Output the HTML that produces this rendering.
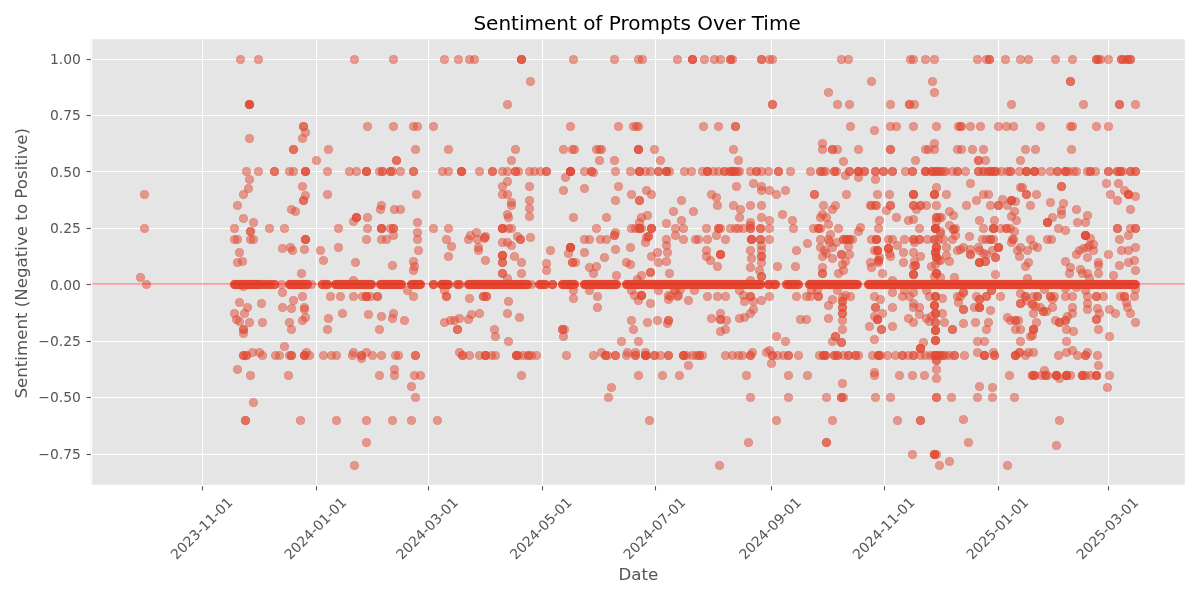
<!DOCTYPE html>
<html lang="en"><head><meta charset="utf-8"><title>Sentiment of Prompts Over Time</title>
<style>html,body{margin:0;padding:0;background:#fff;}body{width:1200px;height:600px;overflow:hidden;}svg{display:block;will-change:transform;}text{font-family:"DejaVu Sans", "Liberation Sans", sans-serif;}.tk{font-size:13.889px;fill:#555555;}.lb{font-size:16.667px;fill:#555555;}.tt{font-size:20px;fill:#000;}.g{stroke:#fff;stroke-width:1.111;}.t{stroke:#555555;stroke-width:1.111;}.p circle{fill:#E24A33;fill-opacity:.5;stroke:#E24A33;stroke-opacity:.5;stroke-width:.8;}</style></head><body>
<svg width="1200" height="600" viewBox="0 0 1200 600">
<rect x="0" y="0" width="1200" height="600" fill="#ffffff"/>
<rect x="90.53" y="38.33" width="1094.47" height="446.83" fill="#E5E5E5"/>
<g><line class="g" x1="202.5" y1="38.33" x2="202.5" y2="485.17"/><line class="g" x1="316.5" y1="38.33" x2="316.5" y2="485.17"/><line class="g" x1="428.5" y1="38.33" x2="428.5" y2="485.17"/><line class="g" x1="542.5" y1="38.33" x2="542.5" y2="485.17"/><line class="g" x1="655.5" y1="38.33" x2="655.5" y2="485.17"/><line class="g" x1="771.5" y1="38.33" x2="771.5" y2="485.17"/><line class="g" x1="884.5" y1="38.33" x2="884.5" y2="485.17"/><line class="g" x1="998.5" y1="38.33" x2="998.5" y2="485.17"/><line class="g" x1="1108.5" y1="38.33" x2="1108.5" y2="485.17"/><line class="g" x1="90.53" y1="454.5" x2="1185.00" y2="454.5"/><line class="g" x1="90.53" y1="397.5" x2="1185.00" y2="397.5"/><line class="g" x1="90.53" y1="341.5" x2="1185.00" y2="341.5"/><line class="g" x1="90.53" y1="284.5" x2="1185.00" y2="284.5"/><line class="g" x1="90.53" y1="228.5" x2="1185.00" y2="228.5"/><line class="g" x1="90.53" y1="171.5" x2="1185.00" y2="171.5"/><line class="g" x1="90.53" y1="115.5" x2="1185.00" y2="115.5"/><line class="g" x1="90.53" y1="59.5" x2="1185.00" y2="59.5"/></g>
<g class="p"><circle cx="240.5" cy="59.5" r="4.1"/><circle cx="258.5" cy="59.5" r="4.1"/><circle cx="249.5" cy="104.5" r="4.1"/><circle cx="249.5" cy="104.5" r="4.1"/><circle cx="249.5" cy="104.5" r="4.1"/><circle cx="249.5" cy="104.5" r="4.1"/><circle cx="249.5" cy="138.5" r="4.1"/><circle cx="354.5" cy="59.5" r="4.1"/><circle cx="393.5" cy="59.5" r="4.1"/><circle cx="444.5" cy="59.5" r="4.1"/><circle cx="458.5" cy="59.5" r="4.1"/><circle cx="469.5" cy="59.5" r="4.1"/><circle cx="474.5" cy="59.5" r="4.1"/><circle cx="303.5" cy="126.5" r="4.1"/><circle cx="303.5" cy="126.5" r="4.1"/><circle cx="367.5" cy="126.5" r="4.1"/><circle cx="393.5" cy="126.5" r="4.1"/><circle cx="413.5" cy="126.5" r="4.1"/><circle cx="417.5" cy="126.5" r="4.1"/><circle cx="433.5" cy="126.5" r="4.1"/><circle cx="305.5" cy="132.5" r="4.1"/><circle cx="302.5" cy="138.5" r="4.1"/><circle cx="521.5" cy="59.5" r="4.1"/><circle cx="521.5" cy="59.5" r="4.1"/><circle cx="521.5" cy="59.5" r="4.1"/><circle cx="573.5" cy="59.5" r="4.1"/><circle cx="614.5" cy="59.5" r="4.1"/><circle cx="638.5" cy="59.5" r="4.1"/><circle cx="642.5" cy="59.5" r="4.1"/><circle cx="677.5" cy="59.5" r="4.1"/><circle cx="530.5" cy="81.5" r="4.1"/><circle cx="507.5" cy="104.5" r="4.1"/><circle cx="570.5" cy="126.5" r="4.1"/><circle cx="618.5" cy="126.5" r="4.1"/><circle cx="633.5" cy="126.5" r="4.1"/><circle cx="636.5" cy="126.5" r="4.1"/><circle cx="638.5" cy="126.5" r="4.1"/><circle cx="692.5" cy="59.5" r="4.1"/><circle cx="692.5" cy="59.5" r="4.1"/><circle cx="692.5" cy="59.5" r="4.1"/><circle cx="704.5" cy="59.5" r="4.1"/><circle cx="714.5" cy="59.5" r="4.1"/><circle cx="720.5" cy="59.5" r="4.1"/><circle cx="730.5" cy="59.5" r="4.1"/><circle cx="730.5" cy="59.5" r="4.1"/><circle cx="732.5" cy="59.5" r="4.1"/><circle cx="761.5" cy="59.5" r="4.1"/><circle cx="761.5" cy="59.5" r="4.1"/><circle cx="769.5" cy="59.5" r="4.1"/><circle cx="772.5" cy="59.5" r="4.1"/><circle cx="841.5" cy="59.5" r="4.1"/><circle cx="848.5" cy="59.5" r="4.1"/><circle cx="828.5" cy="92.5" r="4.1"/><circle cx="772.5" cy="104.5" r="4.1"/><circle cx="772.5" cy="104.5" r="4.1"/><circle cx="837.5" cy="104.5" r="4.1"/><circle cx="849.5" cy="104.5" r="4.1"/><circle cx="703.5" cy="126.5" r="4.1"/><circle cx="718.5" cy="126.5" r="4.1"/><circle cx="735.5" cy="126.5" r="4.1"/><circle cx="735.5" cy="126.5" r="4.1"/><circle cx="850.5" cy="126.5" r="4.1"/><circle cx="910.5" cy="59.5" r="4.1"/><circle cx="913.5" cy="59.5" r="4.1"/><circle cx="925.5" cy="59.5" r="4.1"/><circle cx="934.5" cy="59.5" r="4.1"/><circle cx="977.5" cy="59.5" r="4.1"/><circle cx="986.5" cy="59.5" r="4.1"/><circle cx="989.5" cy="59.5" r="4.1"/><circle cx="989.5" cy="59.5" r="4.1"/><circle cx="1005.5" cy="59.5" r="4.1"/><circle cx="1020.5" cy="59.5" r="4.1"/><circle cx="1028.5" cy="59.5" r="4.1"/><circle cx="1055.5" cy="59.5" r="4.1"/><circle cx="871.5" cy="81.5" r="4.1"/><circle cx="932.5" cy="81.5" r="4.1"/><circle cx="934.5" cy="92.5" r="4.1"/><circle cx="890.5" cy="104.5" r="4.1"/><circle cx="909.5" cy="104.5" r="4.1"/><circle cx="909.5" cy="104.5" r="4.1"/><circle cx="914.5" cy="104.5" r="4.1"/><circle cx="1011.5" cy="104.5" r="4.1"/><circle cx="890.5" cy="126.5" r="4.1"/><circle cx="896.5" cy="126.5" r="4.1"/><circle cx="913.5" cy="126.5" r="4.1"/><circle cx="936.5" cy="126.5" r="4.1"/><circle cx="958.5" cy="126.5" r="4.1"/><circle cx="960.5" cy="126.5" r="4.1"/><circle cx="961.5" cy="126.5" r="4.1"/><circle cx="970.5" cy="126.5" r="4.1"/><circle cx="980.5" cy="126.5" r="4.1"/><circle cx="998.5" cy="126.5" r="4.1"/><circle cx="1006.5" cy="126.5" r="4.1"/><circle cx="1013.5" cy="126.5" r="4.1"/><circle cx="1040.5" cy="126.5" r="4.1"/><circle cx="874.5" cy="130.5" r="4.1"/><circle cx="1072.5" cy="59.5" r="4.1"/><circle cx="1096.5" cy="59.5" r="4.1"/><circle cx="1096.5" cy="59.5" r="4.1"/><circle cx="1098.5" cy="59.5" r="4.1"/><circle cx="1100.5" cy="59.5" r="4.1"/><circle cx="1108.5" cy="59.5" r="4.1"/><circle cx="1121.5" cy="59.5" r="4.1"/><circle cx="1121.5" cy="59.5" r="4.1"/><circle cx="1123.5" cy="59.5" r="4.1"/><circle cx="1127.5" cy="59.5" r="4.1"/><circle cx="1127.5" cy="59.5" r="4.1"/><circle cx="1130.5" cy="59.5" r="4.1"/><circle cx="1130.5" cy="59.5" r="4.1"/><circle cx="1070.5" cy="81.5" r="4.1"/><circle cx="1070.5" cy="81.5" r="4.1"/><circle cx="1083.5" cy="104.5" r="4.1"/><circle cx="1119.5" cy="104.5" r="4.1"/><circle cx="1119.5" cy="104.5" r="4.1"/><circle cx="1135.5" cy="104.5" r="4.1"/><circle cx="1070.5" cy="126.5" r="4.1"/><circle cx="1072.5" cy="126.5" r="4.1"/><circle cx="1096.5" cy="126.5" r="4.1"/><circle cx="1108.5" cy="126.5" r="4.1"/><circle cx="144.5" cy="194.5" r="4.1"/><circle cx="144.5" cy="228.5" r="4.1"/><circle cx="293.5" cy="149.5" r="4.1"/><circle cx="293.5" cy="149.5" r="4.1"/><circle cx="246.5" cy="171.5" r="4.1"/><circle cx="258.5" cy="171.5" r="4.1"/><circle cx="274.5" cy="171.5" r="4.1"/><circle cx="274.5" cy="171.5" r="4.1"/><circle cx="289.5" cy="171.5" r="4.1"/><circle cx="293.5" cy="171.5" r="4.1"/><circle cx="249.5" cy="179.5" r="4.1"/><circle cx="248.5" cy="188.5" r="4.1"/><circle cx="243.5" cy="194.5" r="4.1"/><circle cx="237.5" cy="205.5" r="4.1"/><circle cx="243.5" cy="218.5" r="4.1"/><circle cx="253.5" cy="222.5" r="4.1"/><circle cx="234.5" cy="228.5" r="4.1"/><circle cx="269.5" cy="228.5" r="4.1"/><circle cx="284.5" cy="228.5" r="4.1"/><circle cx="250.5" cy="231.5" r="4.1"/><circle cx="250.5" cy="231.5" r="4.1"/><circle cx="291.5" cy="209.5" r="4.1"/><circle cx="295.5" cy="211.5" r="4.1"/><circle cx="328.5" cy="149.5" r="4.1"/><circle cx="415.5" cy="149.5" r="4.1"/><circle cx="448.5" cy="149.5" r="4.1"/><circle cx="316.5" cy="160.5" r="4.1"/><circle cx="396.5" cy="160.5" r="4.1"/><circle cx="396.5" cy="160.5" r="4.1"/><circle cx="305.5" cy="171.5" r="4.1"/><circle cx="305.5" cy="171.5" r="4.1"/><circle cx="305.5" cy="171.5" r="4.1"/><circle cx="327.5" cy="171.5" r="4.1"/><circle cx="349.5" cy="171.5" r="4.1"/><circle cx="356.5" cy="171.5" r="4.1"/><circle cx="366.5" cy="171.5" r="4.1"/><circle cx="366.5" cy="171.5" r="4.1"/><circle cx="366.5" cy="171.5" r="4.1"/><circle cx="379.5" cy="171.5" r="4.1"/><circle cx="382.5" cy="171.5" r="4.1"/><circle cx="382.5" cy="171.5" r="4.1"/><circle cx="390.5" cy="171.5" r="4.1"/><circle cx="390.5" cy="171.5" r="4.1"/><circle cx="392.5" cy="171.5" r="4.1"/><circle cx="400.5" cy="171.5" r="4.1"/><circle cx="413.5" cy="171.5" r="4.1"/><circle cx="413.5" cy="171.5" r="4.1"/><circle cx="442.5" cy="171.5" r="4.1"/><circle cx="448.5" cy="171.5" r="4.1"/><circle cx="461.5" cy="171.5" r="4.1"/><circle cx="461.5" cy="171.5" r="4.1"/><circle cx="461.5" cy="171.5" r="4.1"/><circle cx="302.5" cy="186.5" r="4.1"/><circle cx="305.5" cy="195.5" r="4.1"/><circle cx="303.5" cy="200.5" r="4.1"/><circle cx="303.5" cy="200.5" r="4.1"/><circle cx="327.5" cy="194.5" r="4.1"/><circle cx="416.5" cy="194.5" r="4.1"/><circle cx="381.5" cy="205.5" r="4.1"/><circle cx="380.5" cy="209.5" r="4.1"/><circle cx="394.5" cy="209.5" r="4.1"/><circle cx="400.5" cy="209.5" r="4.1"/><circle cx="356.5" cy="217.5" r="4.1"/><circle cx="356.5" cy="217.5" r="4.1"/><circle cx="356.5" cy="217.5" r="4.1"/><circle cx="353.5" cy="221.5" r="4.1"/><circle cx="367.5" cy="217.5" r="4.1"/><circle cx="417.5" cy="222.5" r="4.1"/><circle cx="338.5" cy="228.5" r="4.1"/><circle cx="367.5" cy="228.5" r="4.1"/><circle cx="381.5" cy="228.5" r="4.1"/><circle cx="381.5" cy="228.5" r="4.1"/><circle cx="381.5" cy="228.5" r="4.1"/><circle cx="390.5" cy="228.5" r="4.1"/><circle cx="393.5" cy="228.5" r="4.1"/><circle cx="393.5" cy="228.5" r="4.1"/><circle cx="433.5" cy="228.5" r="4.1"/><circle cx="448.5" cy="228.5" r="4.1"/><circle cx="417.5" cy="232.5" r="4.1"/><circle cx="393.5" cy="235.5" r="4.1"/><circle cx="515.5" cy="149.5" r="4.1"/><circle cx="563.5" cy="149.5" r="4.1"/><circle cx="572.5" cy="149.5" r="4.1"/><circle cx="574.5" cy="149.5" r="4.1"/><circle cx="596.5" cy="149.5" r="4.1"/><circle cx="599.5" cy="149.5" r="4.1"/><circle cx="601.5" cy="149.5" r="4.1"/><circle cx="638.5" cy="149.5" r="4.1"/><circle cx="638.5" cy="149.5" r="4.1"/><circle cx="638.5" cy="149.5" r="4.1"/><circle cx="654.5" cy="149.5" r="4.1"/><circle cx="511.5" cy="160.5" r="4.1"/><circle cx="599.5" cy="160.5" r="4.1"/><circle cx="614.5" cy="160.5" r="4.1"/><circle cx="660.5" cy="160.5" r="4.1"/><circle cx="479.5" cy="171.5" r="4.1"/><circle cx="492.5" cy="171.5" r="4.1"/><circle cx="492.5" cy="171.5" r="4.1"/><circle cx="502.5" cy="171.5" r="4.1"/><circle cx="507.5" cy="171.5" r="4.1"/><circle cx="515.5" cy="171.5" r="4.1"/><circle cx="515.5" cy="171.5" r="4.1"/><circle cx="518.5" cy="171.5" r="4.1"/><circle cx="529.5" cy="171.5" r="4.1"/><circle cx="534.5" cy="171.5" r="4.1"/><circle cx="540.5" cy="171.5" r="4.1"/><circle cx="546.5" cy="171.5" r="4.1"/><circle cx="546.5" cy="171.5" r="4.1"/><circle cx="570.5" cy="171.5" r="4.1"/><circle cx="570.5" cy="171.5" r="4.1"/><circle cx="570.5" cy="171.5" r="4.1"/><circle cx="570.5" cy="171.5" r="4.1"/><circle cx="570.5" cy="171.5" r="4.1"/><circle cx="584.5" cy="171.5" r="4.1"/><circle cx="591.5" cy="171.5" r="4.1"/><circle cx="591.5" cy="171.5" r="4.1"/><circle cx="615.5" cy="171.5" r="4.1"/><circle cx="630.5" cy="171.5" r="4.1"/><circle cx="639.5" cy="171.5" r="4.1"/><circle cx="639.5" cy="171.5" r="4.1"/><circle cx="639.5" cy="171.5" r="4.1"/><circle cx="645.5" cy="171.5" r="4.1"/><circle cx="650.5" cy="171.5" r="4.1"/><circle cx="658.5" cy="171.5" r="4.1"/><circle cx="658.5" cy="171.5" r="4.1"/><circle cx="666.5" cy="171.5" r="4.1"/><circle cx="666.5" cy="171.5" r="4.1"/><circle cx="666.5" cy="171.5" r="4.1"/><circle cx="669.5" cy="171.5" r="4.1"/><circle cx="593.5" cy="172.5" r="4.1"/><circle cx="565.5" cy="177.5" r="4.1"/><circle cx="507.5" cy="181.5" r="4.1"/><circle cx="502.5" cy="186.5" r="4.1"/><circle cx="529.5" cy="186.5" r="4.1"/><circle cx="563.5" cy="190.5" r="4.1"/><circle cx="584.5" cy="188.5" r="4.1"/><circle cx="618.5" cy="186.5" r="4.1"/><circle cx="502.5" cy="194.5" r="4.1"/><circle cx="507.5" cy="194.5" r="4.1"/><circle cx="646.5" cy="190.5" r="4.1"/><circle cx="651.5" cy="194.5" r="4.1"/><circle cx="631.5" cy="194.5" r="4.1"/><circle cx="511.5" cy="202.5" r="4.1"/><circle cx="511.5" cy="205.5" r="4.1"/><circle cx="529.5" cy="200.5" r="4.1"/><circle cx="529.5" cy="208.5" r="4.1"/><circle cx="529.5" cy="216.5" r="4.1"/><circle cx="615.5" cy="200.5" r="4.1"/><circle cx="639.5" cy="200.5" r="4.1"/><circle cx="639.5" cy="200.5" r="4.1"/><circle cx="507.5" cy="214.5" r="4.1"/><circle cx="508.5" cy="217.5" r="4.1"/><circle cx="573.5" cy="217.5" r="4.1"/><circle cx="606.5" cy="217.5" r="4.1"/><circle cx="673.5" cy="211.5" r="4.1"/><circle cx="647.5" cy="215.5" r="4.1"/><circle cx="641.5" cy="217.5" r="4.1"/><circle cx="639.5" cy="222.5" r="4.1"/><circle cx="666.5" cy="223.5" r="4.1"/><circle cx="502.5" cy="228.5" r="4.1"/><circle cx="502.5" cy="228.5" r="4.1"/><circle cx="502.5" cy="228.5" r="4.1"/><circle cx="508.5" cy="228.5" r="4.1"/><circle cx="511.5" cy="228.5" r="4.1"/><circle cx="596.5" cy="228.5" r="4.1"/><circle cx="631.5" cy="228.5" r="4.1"/><circle cx="635.5" cy="228.5" r="4.1"/><circle cx="639.5" cy="228.5" r="4.1"/><circle cx="639.5" cy="228.5" r="4.1"/><circle cx="639.5" cy="228.5" r="4.1"/><circle cx="641.5" cy="228.5" r="4.1"/><circle cx="651.5" cy="228.5" r="4.1"/><circle cx="651.5" cy="228.5" r="4.1"/><circle cx="651.5" cy="228.5" r="4.1"/><circle cx="675.5" cy="228.5" r="4.1"/><circle cx="615.5" cy="232.5" r="4.1"/><circle cx="614.5" cy="235.5" r="4.1"/><circle cx="614.5" cy="235.5" r="4.1"/><circle cx="733.5" cy="149.5" r="4.1"/><circle cx="822.5" cy="149.5" r="4.1"/><circle cx="832.5" cy="149.5" r="4.1"/><circle cx="832.5" cy="149.5" r="4.1"/><circle cx="837.5" cy="149.5" r="4.1"/><circle cx="858.5" cy="149.5" r="4.1"/><circle cx="822.5" cy="143.5" r="4.1"/><circle cx="738.5" cy="160.5" r="4.1"/><circle cx="843.5" cy="161.5" r="4.1"/><circle cx="684.5" cy="171.5" r="4.1"/><circle cx="691.5" cy="171.5" r="4.1"/><circle cx="702.5" cy="171.5" r="4.1"/><circle cx="707.5" cy="171.5" r="4.1"/><circle cx="707.5" cy="171.5" r="4.1"/><circle cx="707.5" cy="171.5" r="4.1"/><circle cx="713.5" cy="171.5" r="4.1"/><circle cx="718.5" cy="171.5" r="4.1"/><circle cx="724.5" cy="171.5" r="4.1"/><circle cx="724.5" cy="171.5" r="4.1"/><circle cx="729.5" cy="171.5" r="4.1"/><circle cx="731.5" cy="171.5" r="4.1"/><circle cx="731.5" cy="171.5" r="4.1"/><circle cx="733.5" cy="171.5" r="4.1"/><circle cx="733.5" cy="171.5" r="4.1"/><circle cx="735.5" cy="171.5" r="4.1"/><circle cx="737.5" cy="171.5" r="4.1"/><circle cx="739.5" cy="171.5" r="4.1"/><circle cx="750.5" cy="171.5" r="4.1"/><circle cx="756.5" cy="171.5" r="4.1"/><circle cx="756.5" cy="171.5" r="4.1"/><circle cx="761.5" cy="171.5" r="4.1"/><circle cx="768.5" cy="171.5" r="4.1"/><circle cx="778.5" cy="171.5" r="4.1"/><circle cx="778.5" cy="171.5" r="4.1"/><circle cx="790.5" cy="171.5" r="4.1"/><circle cx="810.5" cy="171.5" r="4.1"/><circle cx="820.5" cy="171.5" r="4.1"/><circle cx="820.5" cy="171.5" r="4.1"/><circle cx="823.5" cy="171.5" r="4.1"/><circle cx="825.5" cy="171.5" r="4.1"/><circle cx="834.5" cy="171.5" r="4.1"/><circle cx="834.5" cy="171.5" r="4.1"/><circle cx="836.5" cy="171.5" r="4.1"/><circle cx="849.5" cy="171.5" r="4.1"/><circle cx="849.5" cy="171.5" r="4.1"/><circle cx="858.5" cy="171.5" r="4.1"/><circle cx="858.5" cy="171.5" r="4.1"/><circle cx="858.5" cy="171.5" r="4.1"/><circle cx="864.5" cy="171.5" r="4.1"/><circle cx="864.5" cy="171.5" r="4.1"/><circle cx="845.5" cy="175.5" r="4.1"/><circle cx="858.5" cy="177.5" r="4.1"/><circle cx="753.5" cy="183.5" r="4.1"/><circle cx="761.5" cy="186.5" r="4.1"/><circle cx="761.5" cy="190.5" r="4.1"/><circle cx="769.5" cy="190.5" r="4.1"/><circle cx="776.5" cy="194.5" r="4.1"/><circle cx="785.5" cy="190.5" r="4.1"/><circle cx="736.5" cy="186.5" r="4.1"/><circle cx="711.5" cy="194.5" r="4.1"/><circle cx="716.5" cy="197.5" r="4.1"/><circle cx="814.5" cy="194.5" r="4.1"/><circle cx="814.5" cy="194.5" r="4.1"/><circle cx="846.5" cy="194.5" r="4.1"/><circle cx="681.5" cy="200.5" r="4.1"/><circle cx="717.5" cy="205.5" r="4.1"/><circle cx="733.5" cy="205.5" r="4.1"/><circle cx="750.5" cy="205.5" r="4.1"/><circle cx="761.5" cy="205.5" r="4.1"/><circle cx="823.5" cy="205.5" r="4.1"/><circle cx="835.5" cy="205.5" r="4.1"/><circle cx="870.5" cy="205.5" r="4.1"/><circle cx="740.5" cy="209.5" r="4.1"/><circle cx="832.5" cy="209.5" r="4.1"/><circle cx="693.5" cy="211.5" r="4.1"/><circle cx="782.5" cy="214.5" r="4.1"/><circle cx="739.5" cy="217.5" r="4.1"/><circle cx="761.5" cy="217.5" r="4.1"/><circle cx="769.5" cy="220.5" r="4.1"/><circle cx="750.5" cy="222.5" r="4.1"/><circle cx="792.5" cy="220.5" r="4.1"/><circle cx="822.5" cy="214.5" r="4.1"/><circle cx="820.5" cy="217.5" r="4.1"/><circle cx="826.5" cy="217.5" r="4.1"/><circle cx="828.5" cy="224.5" r="4.1"/><circle cx="681.5" cy="220.5" r="4.1"/><circle cx="683.5" cy="228.5" r="4.1"/><circle cx="706.5" cy="228.5" r="4.1"/><circle cx="718.5" cy="228.5" r="4.1"/><circle cx="718.5" cy="228.5" r="4.1"/><circle cx="720.5" cy="228.5" r="4.1"/><circle cx="730.5" cy="228.5" r="4.1"/><circle cx="735.5" cy="228.5" r="4.1"/><circle cx="738.5" cy="228.5" r="4.1"/><circle cx="743.5" cy="228.5" r="4.1"/><circle cx="750.5" cy="228.5" r="4.1"/><circle cx="750.5" cy="228.5" r="4.1"/><circle cx="760.5" cy="228.5" r="4.1"/><circle cx="760.5" cy="228.5" r="4.1"/><circle cx="769.5" cy="228.5" r="4.1"/><circle cx="793.5" cy="228.5" r="4.1"/><circle cx="813.5" cy="228.5" r="4.1"/><circle cx="818.5" cy="228.5" r="4.1"/><circle cx="818.5" cy="228.5" r="4.1"/><circle cx="820.5" cy="228.5" r="4.1"/><circle cx="838.5" cy="228.5" r="4.1"/><circle cx="750.5" cy="225.5" r="4.1"/><circle cx="860.5" cy="227.5" r="4.1"/><circle cx="858.5" cy="231.5" r="4.1"/><circle cx="830.5" cy="234.5" r="4.1"/><circle cx="675.5" cy="235.5" r="4.1"/><circle cx="716.5" cy="235.5" r="4.1"/><circle cx="890.5" cy="149.5" r="4.1"/><circle cx="890.5" cy="149.5" r="4.1"/><circle cx="925.5" cy="149.5" r="4.1"/><circle cx="928.5" cy="149.5" r="4.1"/><circle cx="934.5" cy="149.5" r="4.1"/><circle cx="957.5" cy="149.5" r="4.1"/><circle cx="961.5" cy="149.5" r="4.1"/><circle cx="972.5" cy="149.5" r="4.1"/><circle cx="983.5" cy="149.5" r="4.1"/><circle cx="1025.5" cy="149.5" r="4.1"/><circle cx="1035.5" cy="149.5" r="4.1"/><circle cx="934.5" cy="143.5" r="4.1"/><circle cx="915.5" cy="160.5" r="4.1"/><circle cx="978.5" cy="160.5" r="4.1"/><circle cx="978.5" cy="160.5" r="4.1"/><circle cx="985.5" cy="160.5" r="4.1"/><circle cx="1020.5" cy="160.5" r="4.1"/><circle cx="875.5" cy="171.5" r="4.1"/><circle cx="875.5" cy="171.5" r="4.1"/><circle cx="883.5" cy="171.5" r="4.1"/><circle cx="883.5" cy="171.5" r="4.1"/><circle cx="892.5" cy="171.5" r="4.1"/><circle cx="892.5" cy="171.5" r="4.1"/><circle cx="905.5" cy="171.5" r="4.1"/><circle cx="912.5" cy="171.5" r="4.1"/><circle cx="912.5" cy="171.5" r="4.1"/><circle cx="925.5" cy="171.5" r="4.1"/><circle cx="925.5" cy="171.5" r="4.1"/><circle cx="925.5" cy="171.5" r="4.1"/><circle cx="931.5" cy="171.5" r="4.1"/><circle cx="931.5" cy="171.5" r="4.1"/><circle cx="934.5" cy="171.5" r="4.1"/><circle cx="934.5" cy="171.5" r="4.1"/><circle cx="937.5" cy="171.5" r="4.1"/><circle cx="937.5" cy="171.5" r="4.1"/><circle cx="940.5" cy="171.5" r="4.1"/><circle cx="940.5" cy="171.5" r="4.1"/><circle cx="943.5" cy="171.5" r="4.1"/><circle cx="945.5" cy="171.5" r="4.1"/><circle cx="952.5" cy="171.5" r="4.1"/><circle cx="957.5" cy="171.5" r="4.1"/><circle cx="957.5" cy="171.5" r="4.1"/><circle cx="965.5" cy="171.5" r="4.1"/><circle cx="978.5" cy="171.5" r="4.1"/><circle cx="978.5" cy="171.5" r="4.1"/><circle cx="983.5" cy="171.5" r="4.1"/><circle cx="983.5" cy="171.5" r="4.1"/><circle cx="988.5" cy="171.5" r="4.1"/><circle cx="988.5" cy="171.5" r="4.1"/><circle cx="991.5" cy="171.5" r="4.1"/><circle cx="991.5" cy="171.5" r="4.1"/><circle cx="994.5" cy="171.5" r="4.1"/><circle cx="994.5" cy="171.5" r="4.1"/><circle cx="996.5" cy="171.5" r="4.1"/><circle cx="1001.5" cy="171.5" r="4.1"/><circle cx="1007.5" cy="171.5" r="4.1"/><circle cx="1010.5" cy="171.5" r="4.1"/><circle cx="1010.5" cy="171.5" r="4.1"/><circle cx="1019.5" cy="171.5" r="4.1"/><circle cx="1026.5" cy="171.5" r="4.1"/><circle cx="1026.5" cy="171.5" r="4.1"/><circle cx="1026.5" cy="171.5" r="4.1"/><circle cx="1034.5" cy="171.5" r="4.1"/><circle cx="1034.5" cy="171.5" r="4.1"/><circle cx="1034.5" cy="171.5" r="4.1"/><circle cx="1041.5" cy="171.5" r="4.1"/><circle cx="1050.5" cy="171.5" r="4.1"/><circle cx="1057.5" cy="171.5" r="4.1"/><circle cx="1057.5" cy="171.5" r="4.1"/><circle cx="875.5" cy="179.5" r="4.1"/><circle cx="970.5" cy="183.5" r="4.1"/><circle cx="936.5" cy="187.5" r="4.1"/><circle cx="1020.5" cy="187.5" r="4.1"/><circle cx="1022.5" cy="187.5" r="4.1"/><circle cx="877.5" cy="194.5" r="4.1"/><circle cx="889.5" cy="194.5" r="4.1"/><circle cx="913.5" cy="194.5" r="4.1"/><circle cx="913.5" cy="194.5" r="4.1"/><circle cx="913.5" cy="194.5" r="4.1"/><circle cx="934.5" cy="194.5" r="4.1"/><circle cx="934.5" cy="194.5" r="4.1"/><circle cx="934.5" cy="194.5" r="4.1"/><circle cx="946.5" cy="194.5" r="4.1"/><circle cx="983.5" cy="194.5" r="4.1"/><circle cx="988.5" cy="194.5" r="4.1"/><circle cx="1026.5" cy="194.5" r="4.1"/><circle cx="1026.5" cy="194.5" r="4.1"/><circle cx="1036.5" cy="194.5" r="4.1"/><circle cx="976.5" cy="200.5" r="4.1"/><circle cx="1002.5" cy="199.5" r="4.1"/><circle cx="1011.5" cy="200.5" r="4.1"/><circle cx="1011.5" cy="200.5" r="4.1"/><circle cx="1011.5" cy="200.5" r="4.1"/><circle cx="1015.5" cy="201.5" r="4.1"/><circle cx="1050.5" cy="202.5" r="4.1"/><circle cx="871.5" cy="205.5" r="4.1"/><circle cx="875.5" cy="205.5" r="4.1"/><circle cx="876.5" cy="205.5" r="4.1"/><circle cx="890.5" cy="205.5" r="4.1"/><circle cx="890.5" cy="205.5" r="4.1"/><circle cx="913.5" cy="205.5" r="4.1"/><circle cx="913.5" cy="205.5" r="4.1"/><circle cx="920.5" cy="205.5" r="4.1"/><circle cx="920.5" cy="205.5" r="4.1"/><circle cx="926.5" cy="205.5" r="4.1"/><circle cx="936.5" cy="205.5" r="4.1"/><circle cx="966.5" cy="205.5" r="4.1"/><circle cx="990.5" cy="205.5" r="4.1"/><circle cx="998.5" cy="205.5" r="4.1"/><circle cx="998.5" cy="205.5" r="4.1"/><circle cx="1007.5" cy="205.5" r="4.1"/><circle cx="1030.5" cy="205.5" r="4.1"/><circle cx="886.5" cy="210.5" r="4.1"/><circle cx="916.5" cy="209.5" r="4.1"/><circle cx="949.5" cy="211.5" r="4.1"/><circle cx="953.5" cy="215.5" r="4.1"/><circle cx="1014.5" cy="211.5" r="4.1"/><circle cx="1011.5" cy="216.5" r="4.1"/><circle cx="1016.5" cy="220.5" r="4.1"/><circle cx="896.5" cy="217.5" r="4.1"/><circle cx="908.5" cy="220.5" r="4.1"/><circle cx="913.5" cy="219.5" r="4.1"/><circle cx="879.5" cy="220.5" r="4.1"/><circle cx="936.5" cy="217.5" r="4.1"/><circle cx="936.5" cy="217.5" r="4.1"/><circle cx="939.5" cy="217.5" r="4.1"/><circle cx="941.5" cy="217.5" r="4.1"/><circle cx="936.5" cy="221.5" r="4.1"/><circle cx="979.5" cy="220.5" r="4.1"/><circle cx="994.5" cy="220.5" r="4.1"/><circle cx="1052.5" cy="217.5" r="4.1"/><circle cx="1047.5" cy="222.5" r="4.1"/><circle cx="1047.5" cy="222.5" r="4.1"/><circle cx="1047.5" cy="222.5" r="4.1"/><circle cx="878.5" cy="228.5" r="4.1"/><circle cx="919.5" cy="228.5" r="4.1"/><circle cx="935.5" cy="228.5" r="4.1"/><circle cx="935.5" cy="228.5" r="4.1"/><circle cx="935.5" cy="228.5" r="4.1"/><circle cx="935.5" cy="228.5" r="4.1"/><circle cx="935.5" cy="228.5" r="4.1"/><circle cx="955.5" cy="228.5" r="4.1"/><circle cx="983.5" cy="228.5" r="4.1"/><circle cx="993.5" cy="228.5" r="4.1"/><circle cx="993.5" cy="228.5" r="4.1"/><circle cx="993.5" cy="228.5" r="4.1"/><circle cx="1000.5" cy="228.5" r="4.1"/><circle cx="1006.5" cy="228.5" r="4.1"/><circle cx="1006.5" cy="228.5" r="4.1"/><circle cx="1010.5" cy="228.5" r="4.1"/><circle cx="940.5" cy="231.5" r="4.1"/><circle cx="949.5" cy="225.5" r="4.1"/><circle cx="953.5" cy="229.5" r="4.1"/><circle cx="953.5" cy="229.5" r="4.1"/><circle cx="1014.5" cy="231.5" r="4.1"/><circle cx="1071.5" cy="149.5" r="4.1"/><circle cx="1065.5" cy="171.5" r="4.1"/><circle cx="1065.5" cy="171.5" r="4.1"/><circle cx="1065.5" cy="171.5" r="4.1"/><circle cx="1068.5" cy="171.5" r="4.1"/><circle cx="1073.5" cy="171.5" r="4.1"/><circle cx="1076.5" cy="171.5" r="4.1"/><circle cx="1087.5" cy="171.5" r="4.1"/><circle cx="1090.5" cy="171.5" r="4.1"/><circle cx="1090.5" cy="171.5" r="4.1"/><circle cx="1095.5" cy="171.5" r="4.1"/><circle cx="1108.5" cy="171.5" r="4.1"/><circle cx="1108.5" cy="171.5" r="4.1"/><circle cx="1117.5" cy="171.5" r="4.1"/><circle cx="1117.5" cy="171.5" r="4.1"/><circle cx="1120.5" cy="171.5" r="4.1"/><circle cx="1120.5" cy="171.5" r="4.1"/><circle cx="1122.5" cy="171.5" r="4.1"/><circle cx="1130.5" cy="171.5" r="4.1"/><circle cx="1130.5" cy="171.5" r="4.1"/><circle cx="1135.5" cy="171.5" r="4.1"/><circle cx="1135.5" cy="171.5" r="4.1"/><circle cx="1061.5" cy="186.5" r="4.1"/><circle cx="1061.5" cy="186.5" r="4.1"/><circle cx="1106.5" cy="183.5" r="4.1"/><circle cx="1118.5" cy="183.5" r="4.1"/><circle cx="1124.5" cy="190.5" r="4.1"/><circle cx="1128.5" cy="194.5" r="4.1"/><circle cx="1128.5" cy="194.5" r="4.1"/><circle cx="1128.5" cy="194.5" r="4.1"/><circle cx="1135.5" cy="196.5" r="4.1"/><circle cx="1110.5" cy="194.5" r="4.1"/><circle cx="1117.5" cy="200.5" r="4.1"/><circle cx="1063.5" cy="203.5" r="4.1"/><circle cx="1061.5" cy="210.5" r="4.1"/><circle cx="1061.5" cy="214.5" r="4.1"/><circle cx="1076.5" cy="209.5" r="4.1"/><circle cx="1130.5" cy="209.5" r="4.1"/><circle cx="1087.5" cy="215.5" r="4.1"/><circle cx="1077.5" cy="222.5" r="4.1"/><circle cx="1085.5" cy="222.5" r="4.1"/><circle cx="1058.5" cy="228.5" r="4.1"/><circle cx="1117.5" cy="228.5" r="4.1"/><circle cx="1117.5" cy="228.5" r="4.1"/><circle cx="1130.5" cy="228.5" r="4.1"/><circle cx="1135.5" cy="228.5" r="4.1"/><circle cx="1135.5" cy="228.5" r="4.1"/><circle cx="1065.5" cy="230.5" r="4.1"/><circle cx="1085.5" cy="235.5" r="4.1"/><circle cx="1085.5" cy="235.5" r="4.1"/><circle cx="1085.5" cy="235.5" r="4.1"/><circle cx="1085.5" cy="235.5" r="4.1"/><circle cx="1090.5" cy="238.5" r="4.1"/><circle cx="1128.5" cy="235.5" r="4.1"/><circle cx="140.5" cy="277.5" r="4.1"/><circle cx="146.5" cy="284.5" r="4.1"/><circle cx="234.5" cy="239.5" r="4.1"/><circle cx="237.5" cy="239.5" r="4.1"/><circle cx="250.5" cy="239.5" r="4.1"/><circle cx="253.5" cy="239.5" r="4.1"/><circle cx="239.5" cy="252.5" r="4.1"/><circle cx="237.5" cy="262.5" r="4.1"/><circle cx="242.5" cy="261.5" r="4.1"/><circle cx="282.5" cy="248.5" r="4.1"/><circle cx="290.5" cy="247.5" r="4.1"/><circle cx="292.5" cy="250.5" r="4.1"/><circle cx="243.5" cy="286.5" r="4.1"/><circle cx="282.5" cy="292.5" r="4.1"/><circle cx="239.5" cy="302.5" r="4.1"/><circle cx="261.5" cy="303.5" r="4.1"/><circle cx="247.5" cy="307.5" r="4.1"/><circle cx="282.5" cy="307.5" r="4.1"/><circle cx="291.5" cy="308.5" r="4.1"/><circle cx="293.5" cy="300.5" r="4.1"/><circle cx="234.5" cy="313.5" r="4.1"/><circle cx="244.5" cy="313.5" r="4.1"/><circle cx="236.5" cy="319.5" r="4.1"/><circle cx="239.5" cy="321.5" r="4.1"/><circle cx="249.5" cy="322.5" r="4.1"/><circle cx="262.5" cy="322.5" r="4.1"/><circle cx="289.5" cy="322.5" r="4.1"/><circle cx="243.5" cy="329.5" r="4.1"/><circle cx="243.5" cy="329.5" r="4.1"/><circle cx="291.5" cy="329.5" r="4.1"/><circle cx="305.5" cy="239.5" r="4.1"/><circle cx="305.5" cy="239.5" r="4.1"/><circle cx="305.5" cy="239.5" r="4.1"/><circle cx="366.5" cy="239.5" r="4.1"/><circle cx="381.5" cy="239.5" r="4.1"/><circle cx="386.5" cy="239.5" r="4.1"/><circle cx="417.5" cy="239.5" r="4.1"/><circle cx="446.5" cy="239.5" r="4.1"/><circle cx="468.5" cy="239.5" r="4.1"/><circle cx="477.5" cy="239.5" r="4.1"/><circle cx="470.5" cy="235.5" r="4.1"/><circle cx="476.5" cy="232.5" r="4.1"/><circle cx="485.5" cy="236.5" r="4.1"/><circle cx="484.5" cy="237.5" r="4.1"/><circle cx="484.5" cy="238.5" r="4.1"/><circle cx="304.5" cy="249.5" r="4.1"/><circle cx="320.5" cy="250.5" r="4.1"/><circle cx="338.5" cy="247.5" r="4.1"/><circle cx="418.5" cy="250.5" r="4.1"/><circle cx="451.5" cy="246.5" r="4.1"/><circle cx="478.5" cy="247.5" r="4.1"/><circle cx="478.5" cy="250.5" r="4.1"/><circle cx="323.5" cy="260.5" r="4.1"/><circle cx="355.5" cy="262.5" r="4.1"/><circle cx="448.5" cy="256.5" r="4.1"/><circle cx="485.5" cy="260.5" r="4.1"/><circle cx="392.5" cy="265.5" r="4.1"/><circle cx="413.5" cy="261.5" r="4.1"/><circle cx="414.5" cy="266.5" r="4.1"/><circle cx="413.5" cy="270.5" r="4.1"/><circle cx="301.5" cy="273.5" r="4.1"/><circle cx="353.5" cy="280.5" r="4.1"/><circle cx="407.5" cy="290.5" r="4.1"/><circle cx="444.5" cy="290.5" r="4.1"/><circle cx="302.5" cy="296.5" r="4.1"/><circle cx="330.5" cy="296.5" r="4.1"/><circle cx="340.5" cy="296.5" r="4.1"/><circle cx="353.5" cy="296.5" r="4.1"/><circle cx="362.5" cy="296.5" r="4.1"/><circle cx="366.5" cy="296.5" r="4.1"/><circle cx="366.5" cy="296.5" r="4.1"/><circle cx="366.5" cy="296.5" r="4.1"/><circle cx="370.5" cy="296.5" r="4.1"/><circle cx="377.5" cy="296.5" r="4.1"/><circle cx="377.5" cy="296.5" r="4.1"/><circle cx="413.5" cy="296.5" r="4.1"/><circle cx="446.5" cy="296.5" r="4.1"/><circle cx="446.5" cy="296.5" r="4.1"/><circle cx="483.5" cy="296.5" r="4.1"/><circle cx="483.5" cy="296.5" r="4.1"/><circle cx="486.5" cy="296.5" r="4.1"/><circle cx="486.5" cy="296.5" r="4.1"/><circle cx="469.5" cy="298.5" r="4.1"/><circle cx="304.5" cy="307.5" r="4.1"/><circle cx="304.5" cy="309.5" r="4.1"/><circle cx="342.5" cy="313.5" r="4.1"/><circle cx="368.5" cy="314.5" r="4.1"/><circle cx="393.5" cy="313.5" r="4.1"/><circle cx="381.5" cy="316.5" r="4.1"/><circle cx="392.5" cy="318.5" r="4.1"/><circle cx="404.5" cy="320.5" r="4.1"/><circle cx="328.5" cy="318.5" r="4.1"/><circle cx="302.5" cy="320.5" r="4.1"/><circle cx="305.5" cy="317.5" r="4.1"/><circle cx="327.5" cy="329.5" r="4.1"/><circle cx="379.5" cy="329.5" r="4.1"/><circle cx="479.5" cy="313.5" r="4.1"/><circle cx="471.5" cy="314.5" r="4.1"/><circle cx="468.5" cy="319.5" r="4.1"/><circle cx="459.5" cy="318.5" r="4.1"/><circle cx="450.5" cy="320.5" r="4.1"/><circle cx="454.5" cy="320.5" r="4.1"/><circle cx="444.5" cy="322.5" r="4.1"/><circle cx="457.5" cy="329.5" r="4.1"/><circle cx="457.5" cy="329.5" r="4.1"/><circle cx="502.5" cy="242.5" r="4.1"/><circle cx="507.5" cy="242.5" r="4.1"/><circle cx="511.5" cy="245.5" r="4.1"/><circle cx="517.5" cy="236.5" r="4.1"/><circle cx="520.5" cy="239.5" r="4.1"/><circle cx="520.5" cy="239.5" r="4.1"/><circle cx="530.5" cy="237.5" r="4.1"/><circle cx="502.5" cy="255.5" r="4.1"/><circle cx="502.5" cy="255.5" r="4.1"/><circle cx="502.5" cy="255.5" r="4.1"/><circle cx="502.5" cy="262.5" r="4.1"/><circle cx="502.5" cy="262.5" r="4.1"/><circle cx="514.5" cy="256.5" r="4.1"/><circle cx="521.5" cy="262.5" r="4.1"/><circle cx="502.5" cy="273.5" r="4.1"/><circle cx="502.5" cy="273.5" r="4.1"/><circle cx="507.5" cy="278.5" r="4.1"/><circle cx="521.5" cy="273.5" r="4.1"/><circle cx="550.5" cy="250.5" r="4.1"/><circle cx="546.5" cy="263.5" r="4.1"/><circle cx="546.5" cy="270.5" r="4.1"/><circle cx="570.5" cy="247.5" r="4.1"/><circle cx="570.5" cy="247.5" r="4.1"/><circle cx="570.5" cy="247.5" r="4.1"/><circle cx="570.5" cy="247.5" r="4.1"/><circle cx="568.5" cy="253.5" r="4.1"/><circle cx="572.5" cy="262.5" r="4.1"/><circle cx="572.5" cy="262.5" r="4.1"/><circle cx="575.5" cy="262.5" r="4.1"/><circle cx="584.5" cy="239.5" r="4.1"/><circle cx="589.5" cy="239.5" r="4.1"/><circle cx="600.5" cy="239.5" r="4.1"/><circle cx="606.5" cy="239.5" r="4.1"/><circle cx="666.5" cy="239.5" r="4.1"/><circle cx="584.5" cy="252.5" r="4.1"/><circle cx="615.5" cy="249.5" r="4.1"/><circle cx="630.5" cy="247.5" r="4.1"/><circle cx="604.5" cy="257.5" r="4.1"/><circle cx="589.5" cy="267.5" r="4.1"/><circle cx="596.5" cy="266.5" r="4.1"/><circle cx="593.5" cy="273.5" r="4.1"/><circle cx="616.5" cy="275.5" r="4.1"/><circle cx="626.5" cy="262.5" r="4.1"/><circle cx="630.5" cy="264.5" r="4.1"/><circle cx="646.5" cy="237.5" r="4.1"/><circle cx="648.5" cy="236.5" r="4.1"/><circle cx="648.5" cy="236.5" r="4.1"/><circle cx="645.5" cy="242.5" r="4.1"/><circle cx="651.5" cy="256.5" r="4.1"/><circle cx="657.5" cy="252.5" r="4.1"/><circle cx="658.5" cy="262.5" r="4.1"/><circle cx="666.5" cy="245.5" r="4.1"/><circle cx="667.5" cy="252.5" r="4.1"/><circle cx="666.5" cy="261.5" r="4.1"/><circle cx="669.5" cy="273.5" r="4.1"/><circle cx="650.5" cy="272.5" r="4.1"/><circle cx="650.5" cy="272.5" r="4.1"/><circle cx="641.5" cy="275.5" r="4.1"/><circle cx="637.5" cy="279.5" r="4.1"/><circle cx="573.5" cy="290.5" r="4.1"/><circle cx="573.5" cy="298.5" r="4.1"/><circle cx="589.5" cy="290.5" r="4.1"/><circle cx="597.5" cy="296.5" r="4.1"/><circle cx="597.5" cy="307.5" r="4.1"/><circle cx="508.5" cy="301.5" r="4.1"/><circle cx="507.5" cy="313.5" r="4.1"/><circle cx="519.5" cy="317.5" r="4.1"/><circle cx="494.5" cy="329.5" r="4.1"/><circle cx="495.5" cy="336.5" r="4.1"/><circle cx="562.5" cy="329.5" r="4.1"/><circle cx="562.5" cy="329.5" r="4.1"/><circle cx="564.5" cy="329.5" r="4.1"/><circle cx="631.5" cy="290.5" r="4.1"/><circle cx="634.5" cy="295.5" r="4.1"/><circle cx="641.5" cy="295.5" r="4.1"/><circle cx="641.5" cy="295.5" r="4.1"/><circle cx="641.5" cy="295.5" r="4.1"/><circle cx="638.5" cy="300.5" r="4.1"/><circle cx="650.5" cy="303.5" r="4.1"/><circle cx="658.5" cy="290.5" r="4.1"/><circle cx="668.5" cy="295.5" r="4.1"/><circle cx="668.5" cy="299.5" r="4.1"/><circle cx="674.5" cy="290.5" r="4.1"/><circle cx="678.5" cy="295.5" r="4.1"/><circle cx="631.5" cy="320.5" r="4.1"/><circle cx="633.5" cy="329.5" r="4.1"/><circle cx="647.5" cy="322.5" r="4.1"/><circle cx="657.5" cy="320.5" r="4.1"/><circle cx="668.5" cy="320.5" r="4.1"/><circle cx="668.5" cy="320.5" r="4.1"/><circle cx="667.5" cy="323.5" r="4.1"/><circle cx="683.5" cy="239.5" r="4.1"/><circle cx="695.5" cy="239.5" r="4.1"/><circle cx="698.5" cy="239.5" r="4.1"/><circle cx="707.5" cy="239.5" r="4.1"/><circle cx="725.5" cy="239.5" r="4.1"/><circle cx="751.5" cy="239.5" r="4.1"/><circle cx="751.5" cy="239.5" r="4.1"/><circle cx="751.5" cy="239.5" r="4.1"/><circle cx="760.5" cy="239.5" r="4.1"/><circle cx="760.5" cy="239.5" r="4.1"/><circle cx="769.5" cy="239.5" r="4.1"/><circle cx="820.5" cy="239.5" r="4.1"/><circle cx="828.5" cy="239.5" r="4.1"/><circle cx="843.5" cy="239.5" r="4.1"/><circle cx="843.5" cy="239.5" r="4.1"/><circle cx="846.5" cy="239.5" r="4.1"/><circle cx="846.5" cy="239.5" r="4.1"/><circle cx="849.5" cy="239.5" r="4.1"/><circle cx="849.5" cy="239.5" r="4.1"/><circle cx="852.5" cy="239.5" r="4.1"/><circle cx="807.5" cy="243.5" r="4.1"/><circle cx="706.5" cy="250.5" r="4.1"/><circle cx="706.5" cy="256.5" r="4.1"/><circle cx="710.5" cy="260.5" r="4.1"/><circle cx="717.5" cy="266.5" r="4.1"/><circle cx="720.5" cy="254.5" r="4.1"/><circle cx="720.5" cy="254.5" r="4.1"/><circle cx="720.5" cy="254.5" r="4.1"/><circle cx="750.5" cy="250.5" r="4.1"/><circle cx="751.5" cy="258.5" r="4.1"/><circle cx="750.5" cy="267.5" r="4.1"/><circle cx="761.5" cy="245.5" r="4.1"/><circle cx="761.5" cy="250.5" r="4.1"/><circle cx="761.5" cy="256.5" r="4.1"/><circle cx="761.5" cy="256.5" r="4.1"/><circle cx="761.5" cy="262.5" r="4.1"/><circle cx="759.5" cy="270.5" r="4.1"/><circle cx="761.5" cy="276.5" r="4.1"/><circle cx="761.5" cy="276.5" r="4.1"/><circle cx="750.5" cy="280.5" r="4.1"/><circle cx="777.5" cy="266.5" r="4.1"/><circle cx="795.5" cy="266.5" r="4.1"/><circle cx="796.5" cy="250.5" r="4.1"/><circle cx="820.5" cy="247.5" r="4.1"/><circle cx="824.5" cy="250.5" r="4.1"/><circle cx="826.5" cy="253.5" r="4.1"/><circle cx="822.5" cy="256.5" r="4.1"/><circle cx="832.5" cy="258.5" r="4.1"/><circle cx="832.5" cy="247.5" r="4.1"/><circle cx="836.5" cy="242.5" r="4.1"/><circle cx="829.5" cy="242.5" r="4.1"/><circle cx="848.5" cy="246.5" r="4.1"/><circle cx="841.5" cy="254.5" r="4.1"/><circle cx="841.5" cy="254.5" r="4.1"/><circle cx="849.5" cy="254.5" r="4.1"/><circle cx="845.5" cy="261.5" r="4.1"/><circle cx="842.5" cy="264.5" r="4.1"/><circle cx="843.5" cy="270.5" r="4.1"/><circle cx="838.5" cy="273.5" r="4.1"/><circle cx="822.5" cy="267.5" r="4.1"/><circle cx="822.5" cy="273.5" r="4.1"/><circle cx="822.5" cy="273.5" r="4.1"/><circle cx="670.5" cy="296.5" r="4.1"/><circle cx="677.5" cy="296.5" r="4.1"/><circle cx="707.5" cy="296.5" r="4.1"/><circle cx="717.5" cy="296.5" r="4.1"/><circle cx="725.5" cy="296.5" r="4.1"/><circle cx="750.5" cy="296.5" r="4.1"/><circle cx="750.5" cy="296.5" r="4.1"/><circle cx="769.5" cy="296.5" r="4.1"/><circle cx="796.5" cy="296.5" r="4.1"/><circle cx="806.5" cy="296.5" r="4.1"/><circle cx="810.5" cy="296.5" r="4.1"/><circle cx="818.5" cy="296.5" r="4.1"/><circle cx="818.5" cy="296.5" r="4.1"/><circle cx="850.5" cy="296.5" r="4.1"/><circle cx="694.5" cy="290.5" r="4.1"/><circle cx="675.5" cy="290.5" r="4.1"/><circle cx="680.5" cy="289.5" r="4.1"/><circle cx="739.5" cy="290.5" r="4.1"/><circle cx="688.5" cy="300.5" r="4.1"/><circle cx="743.5" cy="295.5" r="4.1"/><circle cx="744.5" cy="301.5" r="4.1"/><circle cx="753.5" cy="301.5" r="4.1"/><circle cx="761.5" cy="300.5" r="4.1"/><circle cx="753.5" cy="309.5" r="4.1"/><circle cx="750.5" cy="313.5" r="4.1"/><circle cx="744.5" cy="317.5" r="4.1"/><circle cx="739.5" cy="318.5" r="4.1"/><circle cx="720.5" cy="313.5" r="4.1"/><circle cx="711.5" cy="318.5" r="4.1"/><circle cx="720.5" cy="319.5" r="4.1"/><circle cx="720.5" cy="319.5" r="4.1"/><circle cx="726.5" cy="320.5" r="4.1"/><circle cx="725.5" cy="329.5" r="4.1"/><circle cx="720.5" cy="331.5" r="4.1"/><circle cx="817.5" cy="290.5" r="4.1"/><circle cx="811.5" cy="290.5" r="4.1"/><circle cx="837.5" cy="290.5" r="4.1"/><circle cx="832.5" cy="299.5" r="4.1"/><circle cx="828.5" cy="305.5" r="4.1"/><circle cx="842.5" cy="297.5" r="4.1"/><circle cx="842.5" cy="301.5" r="4.1"/><circle cx="842.5" cy="301.5" r="4.1"/><circle cx="842.5" cy="307.5" r="4.1"/><circle cx="842.5" cy="307.5" r="4.1"/><circle cx="842.5" cy="313.5" r="4.1"/><circle cx="842.5" cy="313.5" r="4.1"/><circle cx="842.5" cy="320.5" r="4.1"/><circle cx="842.5" cy="329.5" r="4.1"/><circle cx="845.5" cy="295.5" r="4.1"/><circle cx="800.5" cy="319.5" r="4.1"/><circle cx="806.5" cy="319.5" r="4.1"/><circle cx="828.5" cy="318.5" r="4.1"/><circle cx="776.5" cy="336.5" r="4.1"/><circle cx="835.5" cy="336.5" r="4.1"/><circle cx="835.5" cy="336.5" r="4.1"/><circle cx="871.5" cy="239.5" r="4.1"/><circle cx="876.5" cy="239.5" r="4.1"/><circle cx="876.5" cy="239.5" r="4.1"/><circle cx="876.5" cy="239.5" r="4.1"/><circle cx="888.5" cy="239.5" r="4.1"/><circle cx="892.5" cy="239.5" r="4.1"/><circle cx="904.5" cy="239.5" r="4.1"/><circle cx="913.5" cy="239.5" r="4.1"/><circle cx="913.5" cy="239.5" r="4.1"/><circle cx="919.5" cy="239.5" r="4.1"/><circle cx="919.5" cy="239.5" r="4.1"/><circle cx="927.5" cy="239.5" r="4.1"/><circle cx="934.5" cy="239.5" r="4.1"/><circle cx="934.5" cy="239.5" r="4.1"/><circle cx="938.5" cy="239.5" r="4.1"/><circle cx="943.5" cy="239.5" r="4.1"/><circle cx="952.5" cy="239.5" r="4.1"/><circle cx="982.5" cy="239.5" r="4.1"/><circle cx="986.5" cy="239.5" r="4.1"/><circle cx="990.5" cy="239.5" r="4.1"/><circle cx="990.5" cy="239.5" r="4.1"/><circle cx="993.5" cy="239.5" r="4.1"/><circle cx="1013.5" cy="239.5" r="4.1"/><circle cx="1030.5" cy="239.5" r="4.1"/><circle cx="1047.5" cy="239.5" r="4.1"/><circle cx="1051.5" cy="239.5" r="4.1"/><circle cx="940.5" cy="233.5" r="4.1"/><circle cx="955.5" cy="235.5" r="4.1"/><circle cx="914.5" cy="242.5" r="4.1"/><circle cx="897.5" cy="245.5" r="4.1"/><circle cx="946.5" cy="247.5" r="4.1"/><circle cx="957.5" cy="250.5" r="4.1"/><circle cx="877.5" cy="250.5" r="4.1"/><circle cx="877.5" cy="250.5" r="4.1"/><circle cx="877.5" cy="250.5" r="4.1"/><circle cx="874.5" cy="250.5" r="4.1"/><circle cx="888.5" cy="248.5" r="4.1"/><circle cx="888.5" cy="248.5" r="4.1"/><circle cx="888.5" cy="248.5" r="4.1"/><circle cx="889.5" cy="253.5" r="4.1"/><circle cx="890.5" cy="256.5" r="4.1"/><circle cx="903.5" cy="252.5" r="4.1"/><circle cx="913.5" cy="252.5" r="4.1"/><circle cx="920.5" cy="256.5" r="4.1"/><circle cx="879.5" cy="257.5" r="4.1"/><circle cx="878.5" cy="260.5" r="4.1"/><circle cx="878.5" cy="260.5" r="4.1"/><circle cx="870.5" cy="262.5" r="4.1"/><circle cx="871.5" cy="267.5" r="4.1"/><circle cx="878.5" cy="262.5" r="4.1"/><circle cx="903.5" cy="262.5" r="4.1"/><circle cx="914.5" cy="261.5" r="4.1"/><circle cx="915.5" cy="265.5" r="4.1"/><circle cx="915.5" cy="265.5" r="4.1"/><circle cx="913.5" cy="266.5" r="4.1"/><circle cx="913.5" cy="274.5" r="4.1"/><circle cx="913.5" cy="274.5" r="4.1"/><circle cx="913.5" cy="274.5" r="4.1"/><circle cx="882.5" cy="273.5" r="4.1"/><circle cx="892.5" cy="280.5" r="4.1"/><circle cx="936.5" cy="247.5" r="4.1"/><circle cx="936.5" cy="247.5" r="4.1"/><circle cx="936.5" cy="247.5" r="4.1"/><circle cx="935.5" cy="252.5" r="4.1"/><circle cx="935.5" cy="252.5" r="4.1"/><circle cx="935.5" cy="252.5" r="4.1"/><circle cx="936.5" cy="257.5" r="4.1"/><circle cx="936.5" cy="257.5" r="4.1"/><circle cx="936.5" cy="257.5" r="4.1"/><circle cx="938.5" cy="260.5" r="4.1"/><circle cx="946.5" cy="255.5" r="4.1"/><circle cx="949.5" cy="261.5" r="4.1"/><circle cx="940.5" cy="260.5" r="4.1"/><circle cx="931.5" cy="266.5" r="4.1"/><circle cx="935.5" cy="264.5" r="4.1"/><circle cx="936.5" cy="273.5" r="4.1"/><circle cx="936.5" cy="273.5" r="4.1"/><circle cx="936.5" cy="273.5" r="4.1"/><circle cx="940.5" cy="277.5" r="4.1"/><circle cx="934.5" cy="276.5" r="4.1"/><circle cx="954.5" cy="277.5" r="4.1"/><circle cx="969.5" cy="236.5" r="4.1"/><circle cx="998.5" cy="247.5" r="4.1"/><circle cx="998.5" cy="247.5" r="4.1"/><circle cx="998.5" cy="247.5" r="4.1"/><circle cx="963.5" cy="247.5" r="4.1"/><circle cx="960.5" cy="249.5" r="4.1"/><circle cx="970.5" cy="249.5" r="4.1"/><circle cx="978.5" cy="247.5" r="4.1"/><circle cx="979.5" cy="250.5" r="4.1"/><circle cx="970.5" cy="254.5" r="4.1"/><circle cx="970.5" cy="254.5" r="4.1"/><circle cx="992.5" cy="250.5" r="4.1"/><circle cx="983.5" cy="253.5" r="4.1"/><circle cx="986.5" cy="254.5" r="4.1"/><circle cx="995.5" cy="257.5" r="4.1"/><circle cx="995.5" cy="257.5" r="4.1"/><circle cx="979.5" cy="262.5" r="4.1"/><circle cx="979.5" cy="262.5" r="4.1"/><circle cx="979.5" cy="262.5" r="4.1"/><circle cx="985.5" cy="261.5" r="4.1"/><circle cx="985.5" cy="261.5" r="4.1"/><circle cx="995.5" cy="274.5" r="4.1"/><circle cx="1011.5" cy="242.5" r="4.1"/><circle cx="1020.5" cy="247.5" r="4.1"/><circle cx="1017.5" cy="250.5" r="4.1"/><circle cx="1027.5" cy="250.5" r="4.1"/><circle cx="1033.5" cy="245.5" r="4.1"/><circle cx="1037.5" cy="247.5" r="4.1"/><circle cx="1019.5" cy="256.5" r="4.1"/><circle cx="1028.5" cy="262.5" r="4.1"/><circle cx="1025.5" cy="266.5" r="4.1"/><circle cx="1027.5" cy="278.5" r="4.1"/><circle cx="1093.5" cy="244.5" r="4.1"/><circle cx="1083.5" cy="248.5" r="4.1"/><circle cx="1087.5" cy="247.5" r="4.1"/><circle cx="1089.5" cy="245.5" r="4.1"/><circle cx="1079.5" cy="250.5" r="4.1"/><circle cx="1093.5" cy="250.5" r="4.1"/><circle cx="1076.5" cy="254.5" r="4.1"/><circle cx="1087.5" cy="257.5" r="4.1"/><circle cx="1065.5" cy="261.5" r="4.1"/><circle cx="1070.5" cy="267.5" r="4.1"/><circle cx="1069.5" cy="273.5" r="4.1"/><circle cx="1080.5" cy="269.5" r="4.1"/><circle cx="1082.5" cy="273.5" r="4.1"/><circle cx="1087.5" cy="273.5" r="4.1"/><circle cx="1089.5" cy="278.5" r="4.1"/><circle cx="1098.5" cy="262.5" r="4.1"/><circle cx="1098.5" cy="265.5" r="4.1"/><circle cx="1098.5" cy="273.5" r="4.1"/><circle cx="1108.5" cy="254.5" r="4.1"/><circle cx="1113.5" cy="275.5" r="4.1"/><circle cx="1012.5" cy="239.5" r="4.1"/><circle cx="1119.5" cy="239.5" r="4.1"/><circle cx="1121.5" cy="250.5" r="4.1"/><circle cx="1128.5" cy="250.5" r="4.1"/><circle cx="1135.5" cy="247.5" r="4.1"/><circle cx="1119.5" cy="265.5" r="4.1"/><circle cx="1128.5" cy="262.5" r="4.1"/><circle cx="1134.5" cy="260.5" r="4.1"/><circle cx="1135.5" cy="270.5" r="4.1"/><circle cx="874.5" cy="296.5" r="4.1"/><circle cx="880.5" cy="299.5" r="4.1"/><circle cx="892.5" cy="292.5" r="4.1"/><circle cx="904.5" cy="290.5" r="4.1"/><circle cx="902.5" cy="296.5" r="4.1"/><circle cx="909.5" cy="296.5" r="4.1"/><circle cx="913.5" cy="292.5" r="4.1"/><circle cx="926.5" cy="290.5" r="4.1"/><circle cx="929.5" cy="296.5" r="4.1"/><circle cx="935.5" cy="296.5" r="4.1"/><circle cx="935.5" cy="296.5" r="4.1"/><circle cx="935.5" cy="296.5" r="4.1"/><circle cx="942.5" cy="298.5" r="4.1"/><circle cx="957.5" cy="296.5" r="4.1"/><circle cx="958.5" cy="302.5" r="4.1"/><circle cx="875.5" cy="307.5" r="4.1"/><circle cx="875.5" cy="307.5" r="4.1"/><circle cx="892.5" cy="307.5" r="4.1"/><circle cx="913.5" cy="303.5" r="4.1"/><circle cx="913.5" cy="307.5" r="4.1"/><circle cx="919.5" cy="307.5" r="4.1"/><circle cx="934.5" cy="305.5" r="4.1"/><circle cx="934.5" cy="305.5" r="4.1"/><circle cx="934.5" cy="305.5" r="4.1"/><circle cx="882.5" cy="313.5" r="4.1"/><circle cx="874.5" cy="316.5" r="4.1"/><circle cx="877.5" cy="319.5" r="4.1"/><circle cx="877.5" cy="319.5" r="4.1"/><circle cx="877.5" cy="319.5" r="4.1"/><circle cx="919.5" cy="314.5" r="4.1"/><circle cx="935.5" cy="313.5" r="4.1"/><circle cx="935.5" cy="313.5" r="4.1"/><circle cx="935.5" cy="313.5" r="4.1"/><circle cx="942.5" cy="313.5" r="4.1"/><circle cx="908.5" cy="318.5" r="4.1"/><circle cx="913.5" cy="322.5" r="4.1"/><circle cx="926.5" cy="318.5" r="4.1"/><circle cx="929.5" cy="321.5" r="4.1"/><circle cx="931.5" cy="316.5" r="4.1"/><circle cx="935.5" cy="322.5" r="4.1"/><circle cx="935.5" cy="322.5" r="4.1"/><circle cx="944.5" cy="322.5" r="4.1"/><circle cx="869.5" cy="326.5" r="4.1"/><circle cx="881.5" cy="329.5" r="4.1"/><circle cx="881.5" cy="329.5" r="4.1"/><circle cx="892.5" cy="326.5" r="4.1"/><circle cx="935.5" cy="330.5" r="4.1"/><circle cx="935.5" cy="330.5" r="4.1"/><circle cx="935.5" cy="330.5" r="4.1"/><circle cx="952.5" cy="329.5" r="4.1"/><circle cx="952.5" cy="329.5" r="4.1"/><circle cx="963.5" cy="292.5" r="4.1"/><circle cx="963.5" cy="292.5" r="4.1"/><circle cx="960.5" cy="296.5" r="4.1"/><circle cx="991.5" cy="290.5" r="4.1"/><circle cx="991.5" cy="290.5" r="4.1"/><circle cx="976.5" cy="296.5" r="4.1"/><circle cx="986.5" cy="296.5" r="4.1"/><circle cx="986.5" cy="296.5" r="4.1"/><circle cx="979.5" cy="299.5" r="4.1"/><circle cx="979.5" cy="299.5" r="4.1"/><circle cx="1000.5" cy="296.5" r="4.1"/><circle cx="963.5" cy="309.5" r="4.1"/><circle cx="963.5" cy="309.5" r="4.1"/><circle cx="974.5" cy="307.5" r="4.1"/><circle cx="979.5" cy="307.5" r="4.1"/><circle cx="979.5" cy="307.5" r="4.1"/><circle cx="979.5" cy="307.5" r="4.1"/><circle cx="990.5" cy="310.5" r="4.1"/><circle cx="963.5" cy="323.5" r="4.1"/><circle cx="975.5" cy="322.5" r="4.1"/><circle cx="988.5" cy="322.5" r="4.1"/><circle cx="986.5" cy="329.5" r="4.1"/><circle cx="1020.5" cy="293.5" r="4.1"/><circle cx="1025.5" cy="296.5" r="4.1"/><circle cx="1025.5" cy="296.5" r="4.1"/><circle cx="1020.5" cy="303.5" r="4.1"/><circle cx="1020.5" cy="303.5" r="4.1"/><circle cx="1026.5" cy="300.5" r="4.1"/><circle cx="1033.5" cy="296.5" r="4.1"/><circle cx="1037.5" cy="296.5" r="4.1"/><circle cx="1037.5" cy="296.5" r="4.1"/><circle cx="1044.5" cy="289.5" r="4.1"/><circle cx="1050.5" cy="296.5" r="4.1"/><circle cx="1050.5" cy="296.5" r="4.1"/><circle cx="1054.5" cy="296.5" r="4.1"/><circle cx="1052.5" cy="299.5" r="4.1"/><circle cx="1032.5" cy="304.5" r="4.1"/><circle cx="1032.5" cy="304.5" r="4.1"/><circle cx="1035.5" cy="306.5" r="4.1"/><circle cx="1040.5" cy="307.5" r="4.1"/><circle cx="1052.5" cy="307.5" r="4.1"/><circle cx="1043.5" cy="311.5" r="4.1"/><circle cx="1043.5" cy="311.5" r="4.1"/><circle cx="1046.5" cy="311.5" r="4.1"/><circle cx="1033.5" cy="313.5" r="4.1"/><circle cx="1007.5" cy="317.5" r="4.1"/><circle cx="1010.5" cy="320.5" r="4.1"/><circle cx="1015.5" cy="320.5" r="4.1"/><circle cx="1015.5" cy="320.5" r="4.1"/><circle cx="1018.5" cy="320.5" r="4.1"/><circle cx="1036.5" cy="322.5" r="4.1"/><circle cx="1033.5" cy="329.5" r="4.1"/><circle cx="1033.5" cy="329.5" r="4.1"/><circle cx="1033.5" cy="329.5" r="4.1"/><circle cx="1015.5" cy="329.5" r="4.1"/><circle cx="1020.5" cy="329.5" r="4.1"/><circle cx="1055.5" cy="320.5" r="4.1"/><circle cx="1059.5" cy="322.5" r="4.1"/><circle cx="1059.5" cy="322.5" r="4.1"/><circle cx="1032.5" cy="335.5" r="4.1"/><circle cx="1065.5" cy="288.5" r="4.1"/><circle cx="1076.5" cy="287.5" r="4.1"/><circle cx="1085.5" cy="290.5" r="4.1"/><circle cx="1065.5" cy="296.5" r="4.1"/><circle cx="1072.5" cy="296.5" r="4.1"/><circle cx="1087.5" cy="296.5" r="4.1"/><circle cx="1087.5" cy="303.5" r="4.1"/><circle cx="1087.5" cy="309.5" r="4.1"/><circle cx="1096.5" cy="296.5" r="4.1"/><circle cx="1096.5" cy="296.5" r="4.1"/><circle cx="1103.5" cy="296.5" r="4.1"/><circle cx="1120.5" cy="296.5" r="4.1"/><circle cx="1124.5" cy="296.5" r="4.1"/><circle cx="1124.5" cy="296.5" r="4.1"/><circle cx="1134.5" cy="296.5" r="4.1"/><circle cx="1135.5" cy="289.5" r="4.1"/><circle cx="1126.5" cy="302.5" r="4.1"/><circle cx="1127.5" cy="307.5" r="4.1"/><circle cx="1130.5" cy="313.5" r="4.1"/><circle cx="1135.5" cy="322.5" r="4.1"/><circle cx="1072.5" cy="307.5" r="4.1"/><circle cx="1072.5" cy="313.5" r="4.1"/><circle cx="1067.5" cy="316.5" r="4.1"/><circle cx="1065.5" cy="320.5" r="4.1"/><circle cx="1065.5" cy="320.5" r="4.1"/><circle cx="1097.5" cy="308.5" r="4.1"/><circle cx="1099.5" cy="313.5" r="4.1"/><circle cx="1096.5" cy="319.5" r="4.1"/><circle cx="1096.5" cy="319.5" r="4.1"/><circle cx="1109.5" cy="309.5" r="4.1"/><circle cx="1115.5" cy="313.5" r="4.1"/><circle cx="1066.5" cy="329.5" r="4.1"/><circle cx="1073.5" cy="331.5" r="4.1"/><circle cx="1098.5" cy="329.5" r="4.1"/><circle cx="1109.5" cy="336.5" r="4.1"/><circle cx="243.5" cy="333.5" r="4.1"/><circle cx="243.5" cy="355.5" r="4.1"/><circle cx="243.5" cy="355.5" r="4.1"/><circle cx="246.5" cy="355.5" r="4.1"/><circle cx="246.5" cy="355.5" r="4.1"/><circle cx="262.5" cy="355.5" r="4.1"/><circle cx="275.5" cy="355.5" r="4.1"/><circle cx="279.5" cy="355.5" r="4.1"/><circle cx="289.5" cy="355.5" r="4.1"/><circle cx="291.5" cy="355.5" r="4.1"/><circle cx="291.5" cy="355.5" r="4.1"/><circle cx="304.5" cy="355.5" r="4.1"/><circle cx="304.5" cy="355.5" r="4.1"/><circle cx="304.5" cy="355.5" r="4.1"/><circle cx="309.5" cy="355.5" r="4.1"/><circle cx="323.5" cy="355.5" r="4.1"/><circle cx="331.5" cy="355.5" r="4.1"/><circle cx="336.5" cy="355.5" r="4.1"/><circle cx="352.5" cy="355.5" r="4.1"/><circle cx="361.5" cy="355.5" r="4.1"/><circle cx="361.5" cy="355.5" r="4.1"/><circle cx="372.5" cy="355.5" r="4.1"/><circle cx="381.5" cy="355.5" r="4.1"/><circle cx="395.5" cy="355.5" r="4.1"/><circle cx="398.5" cy="355.5" r="4.1"/><circle cx="252.5" cy="352.5" r="4.1"/><circle cx="259.5" cy="352.5" r="4.1"/><circle cx="306.5" cy="352.5" r="4.1"/><circle cx="353.5" cy="352.5" r="4.1"/><circle cx="366.5" cy="352.5" r="4.1"/><circle cx="361.5" cy="358.5" r="4.1"/><circle cx="284.5" cy="346.5" r="4.1"/><circle cx="237.5" cy="369.5" r="4.1"/><circle cx="394.5" cy="369.5" r="4.1"/><circle cx="250.5" cy="375.5" r="4.1"/><circle cx="288.5" cy="375.5" r="4.1"/><circle cx="379.5" cy="375.5" r="4.1"/><circle cx="394.5" cy="375.5" r="4.1"/><circle cx="414.5" cy="375.5" r="4.1"/><circle cx="420.5" cy="375.5" r="4.1"/><circle cx="521.5" cy="375.5" r="4.1"/><circle cx="253.5" cy="402.5" r="4.1"/><circle cx="245.5" cy="420.5" r="4.1"/><circle cx="245.5" cy="420.5" r="4.1"/><circle cx="300.5" cy="420.5" r="4.1"/><circle cx="336.5" cy="420.5" r="4.1"/><circle cx="366.5" cy="420.5" r="4.1"/><circle cx="392.5" cy="420.5" r="4.1"/><circle cx="411.5" cy="420.5" r="4.1"/><circle cx="437.5" cy="420.5" r="4.1"/><circle cx="563.5" cy="336.5" r="4.1"/><circle cx="508.5" cy="341.5" r="4.1"/><circle cx="415.5" cy="355.5" r="4.1"/><circle cx="415.5" cy="355.5" r="4.1"/><circle cx="462.5" cy="355.5" r="4.1"/><circle cx="462.5" cy="355.5" r="4.1"/><circle cx="469.5" cy="355.5" r="4.1"/><circle cx="479.5" cy="355.5" r="4.1"/><circle cx="485.5" cy="355.5" r="4.1"/><circle cx="485.5" cy="355.5" r="4.1"/><circle cx="485.5" cy="355.5" r="4.1"/><circle cx="491.5" cy="355.5" r="4.1"/><circle cx="495.5" cy="355.5" r="4.1"/><circle cx="516.5" cy="355.5" r="4.1"/><circle cx="516.5" cy="355.5" r="4.1"/><circle cx="516.5" cy="355.5" r="4.1"/><circle cx="518.5" cy="355.5" r="4.1"/><circle cx="523.5" cy="355.5" r="4.1"/><circle cx="528.5" cy="355.5" r="4.1"/><circle cx="528.5" cy="355.5" r="4.1"/><circle cx="531.5" cy="355.5" r="4.1"/><circle cx="536.5" cy="355.5" r="4.1"/><circle cx="566.5" cy="355.5" r="4.1"/><circle cx="459.5" cy="352.5" r="4.1"/><circle cx="411.5" cy="386.5" r="4.1"/><circle cx="415.5" cy="397.5" r="4.1"/><circle cx="621.5" cy="341.5" r="4.1"/><circle cx="638.5" cy="341.5" r="4.1"/><circle cx="785.5" cy="341.5" r="4.1"/><circle cx="832.5" cy="341.5" r="4.1"/><circle cx="977.5" cy="341.5" r="4.1"/><circle cx="984.5" cy="341.5" r="4.1"/><circle cx="1020.5" cy="341.5" r="4.1"/><circle cx="1066.5" cy="341.5" r="4.1"/><circle cx="593.5" cy="355.5" r="4.1"/><circle cx="605.5" cy="355.5" r="4.1"/><circle cx="605.5" cy="355.5" r="4.1"/><circle cx="607.5" cy="355.5" r="4.1"/><circle cx="615.5" cy="355.5" r="4.1"/><circle cx="615.5" cy="355.5" r="4.1"/><circle cx="626.5" cy="355.5" r="4.1"/><circle cx="635.5" cy="355.5" r="4.1"/><circle cx="635.5" cy="355.5" r="4.1"/><circle cx="645.5" cy="355.5" r="4.1"/><circle cx="645.5" cy="355.5" r="4.1"/><circle cx="645.5" cy="355.5" r="4.1"/><circle cx="646.5" cy="355.5" r="4.1"/><circle cx="654.5" cy="355.5" r="4.1"/><circle cx="654.5" cy="355.5" r="4.1"/><circle cx="660.5" cy="355.5" r="4.1"/><circle cx="668.5" cy="355.5" r="4.1"/><circle cx="668.5" cy="355.5" r="4.1"/><circle cx="683.5" cy="355.5" r="4.1"/><circle cx="683.5" cy="355.5" r="4.1"/><circle cx="683.5" cy="355.5" r="4.1"/><circle cx="686.5" cy="355.5" r="4.1"/><circle cx="692.5" cy="355.5" r="4.1"/><circle cx="696.5" cy="355.5" r="4.1"/><circle cx="699.5" cy="355.5" r="4.1"/><circle cx="699.5" cy="355.5" r="4.1"/><circle cx="702.5" cy="355.5" r="4.1"/><circle cx="725.5" cy="355.5" r="4.1"/><circle cx="732.5" cy="355.5" r="4.1"/><circle cx="738.5" cy="355.5" r="4.1"/><circle cx="742.5" cy="355.5" r="4.1"/><circle cx="750.5" cy="355.5" r="4.1"/><circle cx="750.5" cy="355.5" r="4.1"/><circle cx="772.5" cy="355.5" r="4.1"/><circle cx="772.5" cy="355.5" r="4.1"/><circle cx="777.5" cy="355.5" r="4.1"/><circle cx="601.5" cy="352.5" r="4.1"/><circle cx="627.5" cy="352.5" r="4.1"/><circle cx="635.5" cy="352.5" r="4.1"/><circle cx="645.5" cy="352.5" r="4.1"/><circle cx="752.5" cy="352.5" r="4.1"/><circle cx="766.5" cy="352.5" r="4.1"/><circle cx="769.5" cy="350.5" r="4.1"/><circle cx="688.5" cy="365.5" r="4.1"/><circle cx="771.5" cy="363.5" r="4.1"/><circle cx="638.5" cy="375.5" r="4.1"/><circle cx="662.5" cy="375.5" r="4.1"/><circle cx="679.5" cy="375.5" r="4.1"/><circle cx="746.5" cy="375.5" r="4.1"/><circle cx="611.5" cy="387.5" r="4.1"/><circle cx="608.5" cy="397.5" r="4.1"/><circle cx="750.5" cy="397.5" r="4.1"/><circle cx="649.5" cy="420.5" r="4.1"/><circle cx="776.5" cy="420.5" r="4.1"/><circle cx="841.5" cy="342.5" r="4.1"/><circle cx="841.5" cy="342.5" r="4.1"/><circle cx="874.5" cy="339.5" r="4.1"/><circle cx="923.5" cy="342.5" r="4.1"/><circle cx="920.5" cy="348.5" r="4.1"/><circle cx="920.5" cy="348.5" r="4.1"/><circle cx="920.5" cy="348.5" r="4.1"/><circle cx="935.5" cy="340.5" r="4.1"/><circle cx="935.5" cy="340.5" r="4.1"/><circle cx="935.5" cy="340.5" r="4.1"/><circle cx="783.5" cy="355.5" r="4.1"/><circle cx="788.5" cy="355.5" r="4.1"/><circle cx="788.5" cy="355.5" r="4.1"/><circle cx="798.5" cy="355.5" r="4.1"/><circle cx="819.5" cy="355.5" r="4.1"/><circle cx="823.5" cy="355.5" r="4.1"/><circle cx="823.5" cy="355.5" r="4.1"/><circle cx="825.5" cy="355.5" r="4.1"/><circle cx="825.5" cy="355.5" r="4.1"/><circle cx="834.5" cy="355.5" r="4.1"/><circle cx="834.5" cy="355.5" r="4.1"/><circle cx="837.5" cy="355.5" r="4.1"/><circle cx="837.5" cy="355.5" r="4.1"/><circle cx="843.5" cy="355.5" r="4.1"/><circle cx="848.5" cy="355.5" r="4.1"/><circle cx="848.5" cy="355.5" r="4.1"/><circle cx="855.5" cy="355.5" r="4.1"/><circle cx="855.5" cy="355.5" r="4.1"/><circle cx="858.5" cy="355.5" r="4.1"/><circle cx="872.5" cy="355.5" r="4.1"/><circle cx="878.5" cy="355.5" r="4.1"/><circle cx="878.5" cy="355.5" r="4.1"/><circle cx="878.5" cy="355.5" r="4.1"/><circle cx="880.5" cy="355.5" r="4.1"/><circle cx="887.5" cy="355.5" r="4.1"/><circle cx="895.5" cy="355.5" r="4.1"/><circle cx="902.5" cy="355.5" r="4.1"/><circle cx="902.5" cy="355.5" r="4.1"/><circle cx="908.5" cy="355.5" r="4.1"/><circle cx="913.5" cy="355.5" r="4.1"/><circle cx="913.5" cy="355.5" r="4.1"/><circle cx="920.5" cy="355.5" r="4.1"/><circle cx="925.5" cy="355.5" r="4.1"/><circle cx="930.5" cy="355.5" r="4.1"/><circle cx="934.5" cy="355.5" r="4.1"/><circle cx="934.5" cy="355.5" r="4.1"/><circle cx="936.5" cy="355.5" r="4.1"/><circle cx="936.5" cy="355.5" r="4.1"/><circle cx="939.5" cy="355.5" r="4.1"/><circle cx="939.5" cy="355.5" r="4.1"/><circle cx="942.5" cy="355.5" r="4.1"/><circle cx="942.5" cy="355.5" r="4.1"/><circle cx="945.5" cy="355.5" r="4.1"/><circle cx="949.5" cy="355.5" r="4.1"/><circle cx="954.5" cy="355.5" r="4.1"/><circle cx="954.5" cy="355.5" r="4.1"/><circle cx="964.5" cy="355.5" r="4.1"/><circle cx="936.5" cy="360.5" r="4.1"/><circle cx="936.5" cy="360.5" r="4.1"/><circle cx="936.5" cy="369.5" r="4.1"/><circle cx="936.5" cy="378.5" r="4.1"/><circle cx="788.5" cy="375.5" r="4.1"/><circle cx="807.5" cy="375.5" r="4.1"/><circle cx="874.5" cy="375.5" r="4.1"/><circle cx="899.5" cy="375.5" r="4.1"/><circle cx="912.5" cy="375.5" r="4.1"/><circle cx="924.5" cy="375.5" r="4.1"/><circle cx="874.5" cy="372.5" r="4.1"/><circle cx="842.5" cy="383.5" r="4.1"/><circle cx="788.5" cy="397.5" r="4.1"/><circle cx="826.5" cy="397.5" r="4.1"/><circle cx="841.5" cy="397.5" r="4.1"/><circle cx="841.5" cy="397.5" r="4.1"/><circle cx="843.5" cy="397.5" r="4.1"/><circle cx="875.5" cy="397.5" r="4.1"/><circle cx="890.5" cy="397.5" r="4.1"/><circle cx="936.5" cy="397.5" r="4.1"/><circle cx="936.5" cy="397.5" r="4.1"/><circle cx="951.5" cy="397.5" r="4.1"/><circle cx="832.5" cy="420.5" r="4.1"/><circle cx="897.5" cy="420.5" r="4.1"/><circle cx="920.5" cy="420.5" r="4.1"/><circle cx="920.5" cy="420.5" r="4.1"/><circle cx="963.5" cy="419.5" r="4.1"/><circle cx="1030.5" cy="336.5" r="4.1"/><circle cx="984.5" cy="355.5" r="4.1"/><circle cx="984.5" cy="355.5" r="4.1"/><circle cx="984.5" cy="355.5" r="4.1"/><circle cx="994.5" cy="355.5" r="4.1"/><circle cx="994.5" cy="355.5" r="4.1"/><circle cx="1015.5" cy="355.5" r="4.1"/><circle cx="1015.5" cy="355.5" r="4.1"/><circle cx="1015.5" cy="355.5" r="4.1"/><circle cx="1025.5" cy="355.5" r="4.1"/><circle cx="1058.5" cy="355.5" r="4.1"/><circle cx="1077.5" cy="355.5" r="4.1"/><circle cx="1085.5" cy="355.5" r="4.1"/><circle cx="1085.5" cy="355.5" r="4.1"/><circle cx="1097.5" cy="355.5" r="4.1"/><circle cx="977.5" cy="352.5" r="4.1"/><circle cx="993.5" cy="352.5" r="4.1"/><circle cx="1019.5" cy="352.5" r="4.1"/><circle cx="1019.5" cy="352.5" r="4.1"/><circle cx="1028.5" cy="352.5" r="4.1"/><circle cx="1033.5" cy="352.5" r="4.1"/><circle cx="1066.5" cy="352.5" r="4.1"/><circle cx="1087.5" cy="352.5" r="4.1"/><circle cx="1072.5" cy="350.5" r="4.1"/><circle cx="1098.5" cy="365.5" r="4.1"/><circle cx="1009.5" cy="375.5" r="4.1"/><circle cx="1032.5" cy="375.5" r="4.1"/><circle cx="1032.5" cy="375.5" r="4.1"/><circle cx="1034.5" cy="375.5" r="4.1"/><circle cx="1034.5" cy="375.5" r="4.1"/><circle cx="1041.5" cy="375.5" r="4.1"/><circle cx="1045.5" cy="375.5" r="4.1"/><circle cx="1045.5" cy="375.5" r="4.1"/><circle cx="1047.5" cy="375.5" r="4.1"/><circle cx="1056.5" cy="375.5" r="4.1"/><circle cx="1056.5" cy="375.5" r="4.1"/><circle cx="1056.5" cy="375.5" r="4.1"/><circle cx="1056.5" cy="375.5" r="4.1"/><circle cx="1066.5" cy="375.5" r="4.1"/><circle cx="1066.5" cy="375.5" r="4.1"/><circle cx="1066.5" cy="375.5" r="4.1"/><circle cx="1066.5" cy="375.5" r="4.1"/><circle cx="1070.5" cy="375.5" r="4.1"/><circle cx="1082.5" cy="375.5" r="4.1"/><circle cx="1082.5" cy="375.5" r="4.1"/><circle cx="1082.5" cy="375.5" r="4.1"/><circle cx="1085.5" cy="375.5" r="4.1"/><circle cx="1090.5" cy="375.5" r="4.1"/><circle cx="1096.5" cy="375.5" r="4.1"/><circle cx="1096.5" cy="375.5" r="4.1"/><circle cx="1096.5" cy="375.5" r="4.1"/><circle cx="1109.5" cy="375.5" r="4.1"/><circle cx="1044.5" cy="370.5" r="4.1"/><circle cx="1059.5" cy="378.5" r="4.1"/><circle cx="1107.5" cy="387.5" r="4.1"/><circle cx="979.5" cy="386.5" r="4.1"/><circle cx="992.5" cy="387.5" r="4.1"/><circle cx="977.5" cy="397.5" r="4.1"/><circle cx="992.5" cy="397.5" r="4.1"/><circle cx="1014.5" cy="397.5" r="4.1"/><circle cx="1059.5" cy="420.5" r="4.1"/><circle cx="366.5" cy="442.5" r="4.1"/><circle cx="354.5" cy="465.5" r="4.1"/><circle cx="748.5" cy="442.5" r="4.1"/><circle cx="719.5" cy="465.5" r="4.1"/><circle cx="826.5" cy="442.5" r="4.1"/><circle cx="826.5" cy="442.5" r="4.1"/><circle cx="912.5" cy="454.5" r="4.1"/><circle cx="934.5" cy="454.5" r="4.1"/><circle cx="934.5" cy="454.5" r="4.1"/><circle cx="934.5" cy="454.5" r="4.1"/><circle cx="936.5" cy="454.5" r="4.1"/><circle cx="968.5" cy="442.5" r="4.1"/><circle cx="949.5" cy="461.5" r="4.1"/><circle cx="939.5" cy="465.5" r="4.1"/><circle cx="1007.5" cy="465.5" r="4.1"/><circle cx="1056.5" cy="445.5" r="4.1"/><circle cx="234.5" cy="284.5" r="4.1"/><circle cx="234.5" cy="284.5" r="4.1"/><circle cx="235.5" cy="284.5" r="4.1"/><circle cx="235.5" cy="284.5" r="4.1"/><circle cx="236.5" cy="284.5" r="4.1"/><circle cx="236.5" cy="284.5" r="4.1"/><circle cx="237.5" cy="284.5" r="4.1"/><circle cx="237.5" cy="284.5" r="4.1"/><circle cx="238.5" cy="284.5" r="4.1"/><circle cx="238.5" cy="284.5" r="4.1"/><circle cx="239.5" cy="284.5" r="4.1"/><circle cx="239.5" cy="284.5" r="4.1"/><circle cx="240.5" cy="284.5" r="4.1"/><circle cx="240.5" cy="284.5" r="4.1"/><circle cx="241.5" cy="284.5" r="4.1"/><circle cx="241.5" cy="284.5" r="4.1"/><circle cx="242.5" cy="284.5" r="4.1"/><circle cx="242.5" cy="284.5" r="4.1"/><circle cx="243.5" cy="284.5" r="4.1"/><circle cx="243.5" cy="284.5" r="4.1"/><circle cx="244.5" cy="284.5" r="4.1"/><circle cx="244.5" cy="284.5" r="4.1"/><circle cx="245.5" cy="284.5" r="4.1"/><circle cx="245.5" cy="284.5" r="4.1"/><circle cx="246.5" cy="284.5" r="4.1"/><circle cx="246.5" cy="284.5" r="4.1"/><circle cx="247.5" cy="284.5" r="4.1"/><circle cx="247.5" cy="284.5" r="4.1"/><circle cx="248.5" cy="284.5" r="4.1"/><circle cx="248.5" cy="284.5" r="4.1"/><circle cx="249.5" cy="284.5" r="4.1"/><circle cx="249.5" cy="284.5" r="4.1"/><circle cx="250.5" cy="284.5" r="4.1"/><circle cx="250.5" cy="284.5" r="4.1"/><circle cx="251.5" cy="284.5" r="4.1"/><circle cx="251.5" cy="284.5" r="4.1"/><circle cx="252.5" cy="284.5" r="4.1"/><circle cx="252.5" cy="284.5" r="4.1"/><circle cx="253.5" cy="284.5" r="4.1"/><circle cx="253.5" cy="284.5" r="4.1"/><circle cx="254.5" cy="284.5" r="4.1"/><circle cx="254.5" cy="284.5" r="4.1"/><circle cx="255.5" cy="284.5" r="4.1"/><circle cx="255.5" cy="284.5" r="4.1"/><circle cx="256.5" cy="284.5" r="4.1"/><circle cx="256.5" cy="284.5" r="4.1"/><circle cx="257.5" cy="284.5" r="4.1"/><circle cx="257.5" cy="284.5" r="4.1"/><circle cx="258.5" cy="284.5" r="4.1"/><circle cx="258.5" cy="284.5" r="4.1"/><circle cx="259.5" cy="284.5" r="4.1"/><circle cx="259.5" cy="284.5" r="4.1"/><circle cx="260.5" cy="284.5" r="4.1"/><circle cx="260.5" cy="284.5" r="4.1"/><circle cx="261.5" cy="284.5" r="4.1"/><circle cx="261.5" cy="284.5" r="4.1"/><circle cx="265.5" cy="284.5" r="4.1"/><circle cx="265.5" cy="284.5" r="4.1"/><circle cx="265.5" cy="284.5" r="4.1"/><circle cx="268.5" cy="284.5" r="4.1"/><circle cx="268.5" cy="284.5" r="4.1"/><circle cx="270.5" cy="284.5" r="4.1"/><circle cx="270.5" cy="284.5" r="4.1"/><circle cx="270.5" cy="284.5" r="4.1"/><circle cx="274.5" cy="284.5" r="4.1"/><circle cx="274.5" cy="284.5" r="4.1"/><circle cx="274.5" cy="284.5" r="4.1"/><circle cx="281.5" cy="284.5" r="4.1"/><circle cx="289.5" cy="284.5" r="4.1"/><circle cx="289.5" cy="284.5" r="4.1"/><circle cx="290.5" cy="284.5" r="4.1"/><circle cx="290.5" cy="284.5" r="4.1"/><circle cx="291.5" cy="284.5" r="4.1"/><circle cx="291.5" cy="284.5" r="4.1"/><circle cx="292.5" cy="284.5" r="4.1"/><circle cx="292.5" cy="284.5" r="4.1"/><circle cx="293.5" cy="284.5" r="4.1"/><circle cx="293.5" cy="284.5" r="4.1"/><circle cx="294.5" cy="284.5" r="4.1"/><circle cx="294.5" cy="284.5" r="4.1"/><circle cx="295.5" cy="284.5" r="4.1"/><circle cx="295.5" cy="284.5" r="4.1"/><circle cx="296.5" cy="284.5" r="4.1"/><circle cx="296.5" cy="284.5" r="4.1"/><circle cx="297.5" cy="284.5" r="4.1"/><circle cx="297.5" cy="284.5" r="4.1"/><circle cx="298.5" cy="284.5" r="4.1"/><circle cx="298.5" cy="284.5" r="4.1"/><circle cx="299.5" cy="284.5" r="4.1"/><circle cx="299.5" cy="284.5" r="4.1"/><circle cx="300.5" cy="284.5" r="4.1"/><circle cx="300.5" cy="284.5" r="4.1"/><circle cx="301.5" cy="284.5" r="4.1"/><circle cx="301.5" cy="284.5" r="4.1"/><circle cx="302.5" cy="284.5" r="4.1"/><circle cx="302.5" cy="284.5" r="4.1"/><circle cx="303.5" cy="284.5" r="4.1"/><circle cx="303.5" cy="284.5" r="4.1"/><circle cx="304.5" cy="284.5" r="4.1"/><circle cx="304.5" cy="284.5" r="4.1"/><circle cx="305.5" cy="284.5" r="4.1"/><circle cx="305.5" cy="284.5" r="4.1"/><circle cx="306.5" cy="284.5" r="4.1"/><circle cx="306.5" cy="284.5" r="4.1"/><circle cx="307.5" cy="284.5" r="4.1"/><circle cx="307.5" cy="284.5" r="4.1"/><circle cx="311.5" cy="284.5" r="4.1"/><circle cx="322.5" cy="284.5" r="4.1"/><circle cx="322.5" cy="284.5" r="4.1"/><circle cx="322.5" cy="284.5" r="4.1"/><circle cx="325.5" cy="284.5" r="4.1"/><circle cx="325.5" cy="284.5" r="4.1"/><circle cx="327.5" cy="284.5" r="4.1"/><circle cx="327.5" cy="284.5" r="4.1"/><circle cx="327.5" cy="284.5" r="4.1"/><circle cx="335.5" cy="284.5" r="4.1"/><circle cx="335.5" cy="284.5" r="4.1"/><circle cx="336.5" cy="284.5" r="4.1"/><circle cx="336.5" cy="284.5" r="4.1"/><circle cx="337.5" cy="284.5" r="4.1"/><circle cx="337.5" cy="284.5" r="4.1"/><circle cx="338.5" cy="284.5" r="4.1"/><circle cx="338.5" cy="284.5" r="4.1"/><circle cx="339.5" cy="284.5" r="4.1"/><circle cx="339.5" cy="284.5" r="4.1"/><circle cx="340.5" cy="284.5" r="4.1"/><circle cx="340.5" cy="284.5" r="4.1"/><circle cx="341.5" cy="284.5" r="4.1"/><circle cx="341.5" cy="284.5" r="4.1"/><circle cx="342.5" cy="284.5" r="4.1"/><circle cx="342.5" cy="284.5" r="4.1"/><circle cx="343.5" cy="284.5" r="4.1"/><circle cx="343.5" cy="284.5" r="4.1"/><circle cx="344.5" cy="284.5" r="4.1"/><circle cx="344.5" cy="284.5" r="4.1"/><circle cx="345.5" cy="284.5" r="4.1"/><circle cx="345.5" cy="284.5" r="4.1"/><circle cx="346.5" cy="284.5" r="4.1"/><circle cx="346.5" cy="284.5" r="4.1"/><circle cx="347.5" cy="284.5" r="4.1"/><circle cx="347.5" cy="284.5" r="4.1"/><circle cx="348.5" cy="284.5" r="4.1"/><circle cx="348.5" cy="284.5" r="4.1"/><circle cx="349.5" cy="284.5" r="4.1"/><circle cx="349.5" cy="284.5" r="4.1"/><circle cx="350.5" cy="284.5" r="4.1"/><circle cx="350.5" cy="284.5" r="4.1"/><circle cx="351.5" cy="284.5" r="4.1"/><circle cx="351.5" cy="284.5" r="4.1"/><circle cx="352.5" cy="284.5" r="4.1"/><circle cx="352.5" cy="284.5" r="4.1"/><circle cx="353.5" cy="284.5" r="4.1"/><circle cx="353.5" cy="284.5" r="4.1"/><circle cx="354.5" cy="284.5" r="4.1"/><circle cx="354.5" cy="284.5" r="4.1"/><circle cx="355.5" cy="284.5" r="4.1"/><circle cx="355.5" cy="284.5" r="4.1"/><circle cx="356.5" cy="284.5" r="4.1"/><circle cx="356.5" cy="284.5" r="4.1"/><circle cx="357.5" cy="284.5" r="4.1"/><circle cx="357.5" cy="284.5" r="4.1"/><circle cx="358.5" cy="284.5" r="4.1"/><circle cx="358.5" cy="284.5" r="4.1"/><circle cx="359.5" cy="284.5" r="4.1"/><circle cx="359.5" cy="284.5" r="4.1"/><circle cx="360.5" cy="284.5" r="4.1"/><circle cx="360.5" cy="284.5" r="4.1"/><circle cx="361.5" cy="284.5" r="4.1"/><circle cx="361.5" cy="284.5" r="4.1"/><circle cx="362.5" cy="284.5" r="4.1"/><circle cx="362.5" cy="284.5" r="4.1"/><circle cx="363.5" cy="284.5" r="4.1"/><circle cx="363.5" cy="284.5" r="4.1"/><circle cx="364.5" cy="284.5" r="4.1"/><circle cx="364.5" cy="284.5" r="4.1"/><circle cx="365.5" cy="284.5" r="4.1"/><circle cx="365.5" cy="284.5" r="4.1"/><circle cx="366.5" cy="284.5" r="4.1"/><circle cx="366.5" cy="284.5" r="4.1"/><circle cx="367.5" cy="284.5" r="4.1"/><circle cx="367.5" cy="284.5" r="4.1"/><circle cx="368.5" cy="284.5" r="4.1"/><circle cx="368.5" cy="284.5" r="4.1"/><circle cx="369.5" cy="284.5" r="4.1"/><circle cx="369.5" cy="284.5" r="4.1"/><circle cx="370.5" cy="284.5" r="4.1"/><circle cx="370.5" cy="284.5" r="4.1"/><circle cx="371.5" cy="284.5" r="4.1"/><circle cx="371.5" cy="284.5" r="4.1"/><circle cx="380.5" cy="284.5" r="4.1"/><circle cx="380.5" cy="284.5" r="4.1"/><circle cx="381.5" cy="284.5" r="4.1"/><circle cx="381.5" cy="284.5" r="4.1"/><circle cx="382.5" cy="284.5" r="4.1"/><circle cx="382.5" cy="284.5" r="4.1"/><circle cx="383.5" cy="284.5" r="4.1"/><circle cx="383.5" cy="284.5" r="4.1"/><circle cx="384.5" cy="284.5" r="4.1"/><circle cx="384.5" cy="284.5" r="4.1"/><circle cx="385.5" cy="284.5" r="4.1"/><circle cx="385.5" cy="284.5" r="4.1"/><circle cx="386.5" cy="284.5" r="4.1"/><circle cx="386.5" cy="284.5" r="4.1"/><circle cx="387.5" cy="284.5" r="4.1"/><circle cx="387.5" cy="284.5" r="4.1"/><circle cx="388.5" cy="284.5" r="4.1"/><circle cx="388.5" cy="284.5" r="4.1"/><circle cx="389.5" cy="284.5" r="4.1"/><circle cx="389.5" cy="284.5" r="4.1"/><circle cx="390.5" cy="284.5" r="4.1"/><circle cx="390.5" cy="284.5" r="4.1"/><circle cx="391.5" cy="284.5" r="4.1"/><circle cx="391.5" cy="284.5" r="4.1"/><circle cx="392.5" cy="284.5" r="4.1"/><circle cx="392.5" cy="284.5" r="4.1"/><circle cx="393.5" cy="284.5" r="4.1"/><circle cx="393.5" cy="284.5" r="4.1"/><circle cx="394.5" cy="284.5" r="4.1"/><circle cx="394.5" cy="284.5" r="4.1"/><circle cx="395.5" cy="284.5" r="4.1"/><circle cx="395.5" cy="284.5" r="4.1"/><circle cx="396.5" cy="284.5" r="4.1"/><circle cx="396.5" cy="284.5" r="4.1"/><circle cx="397.5" cy="284.5" r="4.1"/><circle cx="397.5" cy="284.5" r="4.1"/><circle cx="398.5" cy="284.5" r="4.1"/><circle cx="398.5" cy="284.5" r="4.1"/><circle cx="399.5" cy="284.5" r="4.1"/><circle cx="399.5" cy="284.5" r="4.1"/><circle cx="400.5" cy="284.5" r="4.1"/><circle cx="400.5" cy="284.5" r="4.1"/><circle cx="401.5" cy="284.5" r="4.1"/><circle cx="401.5" cy="284.5" r="4.1"/><circle cx="411.5" cy="284.5" r="4.1"/><circle cx="411.5" cy="284.5" r="4.1"/><circle cx="412.5" cy="284.5" r="4.1"/><circle cx="412.5" cy="284.5" r="4.1"/><circle cx="413.5" cy="284.5" r="4.1"/><circle cx="413.5" cy="284.5" r="4.1"/><circle cx="414.5" cy="284.5" r="4.1"/><circle cx="414.5" cy="284.5" r="4.1"/><circle cx="415.5" cy="284.5" r="4.1"/><circle cx="415.5" cy="284.5" r="4.1"/><circle cx="416.5" cy="284.5" r="4.1"/><circle cx="416.5" cy="284.5" r="4.1"/><circle cx="417.5" cy="284.5" r="4.1"/><circle cx="417.5" cy="284.5" r="4.1"/><circle cx="418.5" cy="284.5" r="4.1"/><circle cx="418.5" cy="284.5" r="4.1"/><circle cx="419.5" cy="284.5" r="4.1"/><circle cx="419.5" cy="284.5" r="4.1"/><circle cx="420.5" cy="284.5" r="4.1"/><circle cx="420.5" cy="284.5" r="4.1"/><circle cx="433.5" cy="284.5" r="4.1"/><circle cx="433.5" cy="284.5" r="4.1"/><circle cx="433.5" cy="284.5" r="4.1"/><circle cx="441.5" cy="284.5" r="4.1"/><circle cx="441.5" cy="284.5" r="4.1"/><circle cx="442.5" cy="284.5" r="4.1"/><circle cx="442.5" cy="284.5" r="4.1"/><circle cx="443.5" cy="284.5" r="4.1"/><circle cx="443.5" cy="284.5" r="4.1"/><circle cx="444.5" cy="284.5" r="4.1"/><circle cx="444.5" cy="284.5" r="4.1"/><circle cx="445.5" cy="284.5" r="4.1"/><circle cx="445.5" cy="284.5" r="4.1"/><circle cx="446.5" cy="284.5" r="4.1"/><circle cx="446.5" cy="284.5" r="4.1"/><circle cx="447.5" cy="284.5" r="4.1"/><circle cx="447.5" cy="284.5" r="4.1"/><circle cx="448.5" cy="284.5" r="4.1"/><circle cx="448.5" cy="284.5" r="4.1"/><circle cx="457.5" cy="284.5" r="4.1"/><circle cx="457.5" cy="284.5" r="4.1"/><circle cx="459.5" cy="284.5" r="4.1"/><circle cx="459.5" cy="284.5" r="4.1"/><circle cx="468.5" cy="284.5" r="4.1"/><circle cx="468.5" cy="284.5" r="4.1"/><circle cx="469.5" cy="284.5" r="4.1"/><circle cx="469.5" cy="284.5" r="4.1"/><circle cx="470.5" cy="284.5" r="4.1"/><circle cx="470.5" cy="284.5" r="4.1"/><circle cx="471.5" cy="284.5" r="4.1"/><circle cx="471.5" cy="284.5" r="4.1"/><circle cx="472.5" cy="284.5" r="4.1"/><circle cx="472.5" cy="284.5" r="4.1"/><circle cx="473.5" cy="284.5" r="4.1"/><circle cx="473.5" cy="284.5" r="4.1"/><circle cx="474.5" cy="284.5" r="4.1"/><circle cx="474.5" cy="284.5" r="4.1"/><circle cx="475.5" cy="284.5" r="4.1"/><circle cx="475.5" cy="284.5" r="4.1"/><circle cx="476.5" cy="284.5" r="4.1"/><circle cx="476.5" cy="284.5" r="4.1"/><circle cx="477.5" cy="284.5" r="4.1"/><circle cx="477.5" cy="284.5" r="4.1"/><circle cx="478.5" cy="284.5" r="4.1"/><circle cx="478.5" cy="284.5" r="4.1"/><circle cx="479.5" cy="284.5" r="4.1"/><circle cx="479.5" cy="284.5" r="4.1"/><circle cx="480.5" cy="284.5" r="4.1"/><circle cx="480.5" cy="284.5" r="4.1"/><circle cx="481.5" cy="284.5" r="4.1"/><circle cx="481.5" cy="284.5" r="4.1"/><circle cx="482.5" cy="284.5" r="4.1"/><circle cx="482.5" cy="284.5" r="4.1"/><circle cx="483.5" cy="284.5" r="4.1"/><circle cx="483.5" cy="284.5" r="4.1"/><circle cx="484.5" cy="284.5" r="4.1"/><circle cx="484.5" cy="284.5" r="4.1"/><circle cx="485.5" cy="284.5" r="4.1"/><circle cx="485.5" cy="284.5" r="4.1"/><circle cx="486.5" cy="284.5" r="4.1"/><circle cx="486.5" cy="284.5" r="4.1"/><circle cx="487.5" cy="284.5" r="4.1"/><circle cx="487.5" cy="284.5" r="4.1"/><circle cx="488.5" cy="284.5" r="4.1"/><circle cx="488.5" cy="284.5" r="4.1"/><circle cx="489.5" cy="284.5" r="4.1"/><circle cx="489.5" cy="284.5" r="4.1"/><circle cx="490.5" cy="284.5" r="4.1"/><circle cx="490.5" cy="284.5" r="4.1"/><circle cx="491.5" cy="284.5" r="4.1"/><circle cx="491.5" cy="284.5" r="4.1"/><circle cx="492.5" cy="284.5" r="4.1"/><circle cx="492.5" cy="284.5" r="4.1"/><circle cx="493.5" cy="284.5" r="4.1"/><circle cx="493.5" cy="284.5" r="4.1"/><circle cx="494.5" cy="284.5" r="4.1"/><circle cx="494.5" cy="284.5" r="4.1"/><circle cx="495.5" cy="284.5" r="4.1"/><circle cx="495.5" cy="284.5" r="4.1"/><circle cx="496.5" cy="284.5" r="4.1"/><circle cx="496.5" cy="284.5" r="4.1"/><circle cx="497.5" cy="284.5" r="4.1"/><circle cx="497.5" cy="284.5" r="4.1"/><circle cx="498.5" cy="284.5" r="4.1"/><circle cx="498.5" cy="284.5" r="4.1"/><circle cx="499.5" cy="284.5" r="4.1"/><circle cx="499.5" cy="284.5" r="4.1"/><circle cx="500.5" cy="284.5" r="4.1"/><circle cx="500.5" cy="284.5" r="4.1"/><circle cx="501.5" cy="284.5" r="4.1"/><circle cx="501.5" cy="284.5" r="4.1"/><circle cx="502.5" cy="284.5" r="4.1"/><circle cx="502.5" cy="284.5" r="4.1"/><circle cx="503.5" cy="284.5" r="4.1"/><circle cx="503.5" cy="284.5" r="4.1"/><circle cx="504.5" cy="284.5" r="4.1"/><circle cx="504.5" cy="284.5" r="4.1"/><circle cx="505.5" cy="284.5" r="4.1"/><circle cx="505.5" cy="284.5" r="4.1"/><circle cx="506.5" cy="284.5" r="4.1"/><circle cx="506.5" cy="284.5" r="4.1"/><circle cx="507.5" cy="284.5" r="4.1"/><circle cx="507.5" cy="284.5" r="4.1"/><circle cx="508.5" cy="284.5" r="4.1"/><circle cx="508.5" cy="284.5" r="4.1"/><circle cx="509.5" cy="284.5" r="4.1"/><circle cx="509.5" cy="284.5" r="4.1"/><circle cx="510.5" cy="284.5" r="4.1"/><circle cx="510.5" cy="284.5" r="4.1"/><circle cx="511.5" cy="284.5" r="4.1"/><circle cx="511.5" cy="284.5" r="4.1"/><circle cx="512.5" cy="284.5" r="4.1"/><circle cx="512.5" cy="284.5" r="4.1"/><circle cx="513.5" cy="284.5" r="4.1"/><circle cx="513.5" cy="284.5" r="4.1"/><circle cx="514.5" cy="284.5" r="4.1"/><circle cx="514.5" cy="284.5" r="4.1"/><circle cx="515.5" cy="284.5" r="4.1"/><circle cx="515.5" cy="284.5" r="4.1"/><circle cx="516.5" cy="284.5" r="4.1"/><circle cx="516.5" cy="284.5" r="4.1"/><circle cx="517.5" cy="284.5" r="4.1"/><circle cx="517.5" cy="284.5" r="4.1"/><circle cx="518.5" cy="284.5" r="4.1"/><circle cx="518.5" cy="284.5" r="4.1"/><circle cx="519.5" cy="284.5" r="4.1"/><circle cx="519.5" cy="284.5" r="4.1"/><circle cx="520.5" cy="284.5" r="4.1"/><circle cx="520.5" cy="284.5" r="4.1"/><circle cx="521.5" cy="284.5" r="4.1"/><circle cx="521.5" cy="284.5" r="4.1"/><circle cx="522.5" cy="284.5" r="4.1"/><circle cx="522.5" cy="284.5" r="4.1"/><circle cx="523.5" cy="284.5" r="4.1"/><circle cx="523.5" cy="284.5" r="4.1"/><circle cx="524.5" cy="284.5" r="4.1"/><circle cx="524.5" cy="284.5" r="4.1"/><circle cx="525.5" cy="284.5" r="4.1"/><circle cx="525.5" cy="284.5" r="4.1"/><circle cx="526.5" cy="284.5" r="4.1"/><circle cx="526.5" cy="284.5" r="4.1"/><circle cx="527.5" cy="284.5" r="4.1"/><circle cx="527.5" cy="284.5" r="4.1"/><circle cx="531.5" cy="284.5" r="4.1"/><circle cx="539.5" cy="284.5" r="4.1"/><circle cx="539.5" cy="284.5" r="4.1"/><circle cx="541.0" cy="284.5" r="4.1"/><circle cx="541.0" cy="284.5" r="4.1"/><circle cx="542.5" cy="284.5" r="4.1"/><circle cx="542.5" cy="284.5" r="4.1"/><circle cx="544.0" cy="284.5" r="4.1"/><circle cx="544.0" cy="284.5" r="4.1"/><circle cx="545.5" cy="284.5" r="4.1"/><circle cx="545.5" cy="284.5" r="4.1"/><circle cx="552.5" cy="284.5" r="4.1"/><circle cx="552.5" cy="284.5" r="4.1"/><circle cx="552.5" cy="284.5" r="4.1"/><circle cx="562.5" cy="284.5" r="4.1"/><circle cx="562.5" cy="284.5" r="4.1"/><circle cx="563.5" cy="284.5" r="4.1"/><circle cx="563.5" cy="284.5" r="4.1"/><circle cx="564.5" cy="284.5" r="4.1"/><circle cx="564.5" cy="284.5" r="4.1"/><circle cx="565.5" cy="284.5" r="4.1"/><circle cx="565.5" cy="284.5" r="4.1"/><circle cx="566.5" cy="284.5" r="4.1"/><circle cx="566.5" cy="284.5" r="4.1"/><circle cx="567.5" cy="284.5" r="4.1"/><circle cx="567.5" cy="284.5" r="4.1"/><circle cx="568.5" cy="284.5" r="4.1"/><circle cx="568.5" cy="284.5" r="4.1"/><circle cx="569.5" cy="284.5" r="4.1"/><circle cx="569.5" cy="284.5" r="4.1"/><circle cx="570.5" cy="284.5" r="4.1"/><circle cx="570.5" cy="284.5" r="4.1"/><circle cx="571.5" cy="284.5" r="4.1"/><circle cx="571.5" cy="284.5" r="4.1"/><circle cx="572.5" cy="284.5" r="4.1"/><circle cx="572.5" cy="284.5" r="4.1"/><circle cx="573.5" cy="284.5" r="4.1"/><circle cx="573.5" cy="284.5" r="4.1"/><circle cx="574.5" cy="284.5" r="4.1"/><circle cx="574.5" cy="284.5" r="4.1"/><circle cx="584.5" cy="284.5" r="4.1"/><circle cx="584.5" cy="284.5" r="4.1"/><circle cx="585.5" cy="284.5" r="4.1"/><circle cx="585.5" cy="284.5" r="4.1"/><circle cx="586.5" cy="284.5" r="4.1"/><circle cx="586.5" cy="284.5" r="4.1"/><circle cx="587.5" cy="284.5" r="4.1"/><circle cx="587.5" cy="284.5" r="4.1"/><circle cx="588.5" cy="284.5" r="4.1"/><circle cx="588.5" cy="284.5" r="4.1"/><circle cx="589.5" cy="284.5" r="4.1"/><circle cx="589.5" cy="284.5" r="4.1"/><circle cx="590.5" cy="284.5" r="4.1"/><circle cx="590.5" cy="284.5" r="4.1"/><circle cx="591.5" cy="284.5" r="4.1"/><circle cx="591.5" cy="284.5" r="4.1"/><circle cx="592.5" cy="284.5" r="4.1"/><circle cx="592.5" cy="284.5" r="4.1"/><circle cx="593.5" cy="284.5" r="4.1"/><circle cx="593.5" cy="284.5" r="4.1"/><circle cx="594.5" cy="284.5" r="4.1"/><circle cx="594.5" cy="284.5" r="4.1"/><circle cx="595.5" cy="284.5" r="4.1"/><circle cx="595.5" cy="284.5" r="4.1"/><circle cx="596.5" cy="284.5" r="4.1"/><circle cx="596.5" cy="284.5" r="4.1"/><circle cx="597.5" cy="284.5" r="4.1"/><circle cx="597.5" cy="284.5" r="4.1"/><circle cx="598.5" cy="284.5" r="4.1"/><circle cx="598.5" cy="284.5" r="4.1"/><circle cx="599.5" cy="284.5" r="4.1"/><circle cx="599.5" cy="284.5" r="4.1"/><circle cx="600.5" cy="284.5" r="4.1"/><circle cx="600.5" cy="284.5" r="4.1"/><circle cx="601.5" cy="284.5" r="4.1"/><circle cx="601.5" cy="284.5" r="4.1"/><circle cx="602.5" cy="284.5" r="4.1"/><circle cx="602.5" cy="284.5" r="4.1"/><circle cx="603.5" cy="284.5" r="4.1"/><circle cx="603.5" cy="284.5" r="4.1"/><circle cx="604.5" cy="284.5" r="4.1"/><circle cx="604.5" cy="284.5" r="4.1"/><circle cx="605.5" cy="284.5" r="4.1"/><circle cx="605.5" cy="284.5" r="4.1"/><circle cx="606.5" cy="284.5" r="4.1"/><circle cx="606.5" cy="284.5" r="4.1"/><circle cx="607.5" cy="284.5" r="4.1"/><circle cx="607.5" cy="284.5" r="4.1"/><circle cx="608.5" cy="284.5" r="4.1"/><circle cx="608.5" cy="284.5" r="4.1"/><circle cx="609.5" cy="284.5" r="4.1"/><circle cx="609.5" cy="284.5" r="4.1"/><circle cx="610.5" cy="284.5" r="4.1"/><circle cx="610.5" cy="284.5" r="4.1"/><circle cx="611.5" cy="284.5" r="4.1"/><circle cx="611.5" cy="284.5" r="4.1"/><circle cx="612.5" cy="284.5" r="4.1"/><circle cx="612.5" cy="284.5" r="4.1"/><circle cx="613.5" cy="284.5" r="4.1"/><circle cx="613.5" cy="284.5" r="4.1"/><circle cx="614.5" cy="284.5" r="4.1"/><circle cx="614.5" cy="284.5" r="4.1"/><circle cx="615.5" cy="284.5" r="4.1"/><circle cx="615.5" cy="284.5" r="4.1"/><circle cx="616.5" cy="284.5" r="4.1"/><circle cx="616.5" cy="284.5" r="4.1"/><circle cx="626.5" cy="284.5" r="4.1"/><circle cx="626.5" cy="284.5" r="4.1"/><circle cx="627.5" cy="284.5" r="4.1"/><circle cx="627.5" cy="284.5" r="4.1"/><circle cx="628.5" cy="284.5" r="4.1"/><circle cx="628.5" cy="284.5" r="4.1"/><circle cx="629.5" cy="284.5" r="4.1"/><circle cx="629.5" cy="284.5" r="4.1"/><circle cx="630.5" cy="284.5" r="4.1"/><circle cx="630.5" cy="284.5" r="4.1"/><circle cx="631.5" cy="284.5" r="4.1"/><circle cx="631.5" cy="284.5" r="4.1"/><circle cx="632.5" cy="284.5" r="4.1"/><circle cx="632.5" cy="284.5" r="4.1"/><circle cx="633.5" cy="284.5" r="4.1"/><circle cx="633.5" cy="284.5" r="4.1"/><circle cx="634.5" cy="284.5" r="4.1"/><circle cx="634.5" cy="284.5" r="4.1"/><circle cx="635.5" cy="284.5" r="4.1"/><circle cx="635.5" cy="284.5" r="4.1"/><circle cx="636.5" cy="284.5" r="4.1"/><circle cx="636.5" cy="284.5" r="4.1"/><circle cx="637.5" cy="284.5" r="4.1"/><circle cx="637.5" cy="284.5" r="4.1"/><circle cx="638.5" cy="284.5" r="4.1"/><circle cx="638.5" cy="284.5" r="4.1"/><circle cx="639.5" cy="284.5" r="4.1"/><circle cx="639.5" cy="284.5" r="4.1"/><circle cx="640.5" cy="284.5" r="4.1"/><circle cx="640.5" cy="284.5" r="4.1"/><circle cx="641.5" cy="284.5" r="4.1"/><circle cx="641.5" cy="284.5" r="4.1"/><circle cx="642.5" cy="284.5" r="4.1"/><circle cx="642.5" cy="284.5" r="4.1"/><circle cx="643.5" cy="284.5" r="4.1"/><circle cx="643.5" cy="284.5" r="4.1"/><circle cx="644.5" cy="284.5" r="4.1"/><circle cx="644.5" cy="284.5" r="4.1"/><circle cx="645.5" cy="284.5" r="4.1"/><circle cx="645.5" cy="284.5" r="4.1"/><circle cx="646.5" cy="284.5" r="4.1"/><circle cx="646.5" cy="284.5" r="4.1"/><circle cx="647.5" cy="284.5" r="4.1"/><circle cx="647.5" cy="284.5" r="4.1"/><circle cx="648.5" cy="284.5" r="4.1"/><circle cx="648.5" cy="284.5" r="4.1"/><circle cx="649.5" cy="284.5" r="4.1"/><circle cx="649.5" cy="284.5" r="4.1"/><circle cx="650.5" cy="284.5" r="4.1"/><circle cx="650.5" cy="284.5" r="4.1"/><circle cx="651.5" cy="284.5" r="4.1"/><circle cx="651.5" cy="284.5" r="4.1"/><circle cx="652.5" cy="284.5" r="4.1"/><circle cx="652.5" cy="284.5" r="4.1"/><circle cx="653.5" cy="284.5" r="4.1"/><circle cx="653.5" cy="284.5" r="4.1"/><circle cx="654.5" cy="284.5" r="4.1"/><circle cx="654.5" cy="284.5" r="4.1"/><circle cx="655.5" cy="284.5" r="4.1"/><circle cx="655.5" cy="284.5" r="4.1"/><circle cx="656.5" cy="284.5" r="4.1"/><circle cx="656.5" cy="284.5" r="4.1"/><circle cx="657.5" cy="284.5" r="4.1"/><circle cx="657.5" cy="284.5" r="4.1"/><circle cx="658.5" cy="284.5" r="4.1"/><circle cx="658.5" cy="284.5" r="4.1"/><circle cx="659.5" cy="284.5" r="4.1"/><circle cx="659.5" cy="284.5" r="4.1"/><circle cx="660.5" cy="284.5" r="4.1"/><circle cx="660.5" cy="284.5" r="4.1"/><circle cx="661.5" cy="284.5" r="4.1"/><circle cx="661.5" cy="284.5" r="4.1"/><circle cx="662.5" cy="284.5" r="4.1"/><circle cx="662.5" cy="284.5" r="4.1"/><circle cx="663.5" cy="284.5" r="4.1"/><circle cx="663.5" cy="284.5" r="4.1"/><circle cx="664.5" cy="284.5" r="4.1"/><circle cx="664.5" cy="284.5" r="4.1"/><circle cx="665.5" cy="284.5" r="4.1"/><circle cx="665.5" cy="284.5" r="4.1"/><circle cx="666.5" cy="284.5" r="4.1"/><circle cx="666.5" cy="284.5" r="4.1"/><circle cx="667.5" cy="284.5" r="4.1"/><circle cx="667.5" cy="284.5" r="4.1"/><circle cx="668.5" cy="284.5" r="4.1"/><circle cx="668.5" cy="284.5" r="4.1"/><circle cx="669.5" cy="284.5" r="4.1"/><circle cx="669.5" cy="284.5" r="4.1"/><circle cx="670.5" cy="284.5" r="4.1"/><circle cx="670.5" cy="284.5" r="4.1"/><circle cx="671.5" cy="284.5" r="4.1"/><circle cx="671.5" cy="284.5" r="4.1"/><circle cx="672.5" cy="284.5" r="4.1"/><circle cx="672.5" cy="284.5" r="4.1"/><circle cx="673.5" cy="284.5" r="4.1"/><circle cx="673.5" cy="284.5" r="4.1"/><circle cx="674.5" cy="284.5" r="4.1"/><circle cx="674.5" cy="284.5" r="4.1"/><circle cx="675.5" cy="284.5" r="4.1"/><circle cx="675.5" cy="284.5" r="4.1"/><circle cx="676.5" cy="284.5" r="4.1"/><circle cx="676.5" cy="284.5" r="4.1"/><circle cx="677.5" cy="284.5" r="4.1"/><circle cx="677.5" cy="284.5" r="4.1"/><circle cx="678.5" cy="284.5" r="4.1"/><circle cx="678.5" cy="284.5" r="4.1"/><circle cx="679.5" cy="284.5" r="4.1"/><circle cx="679.5" cy="284.5" r="4.1"/><circle cx="680.5" cy="284.5" r="4.1"/><circle cx="680.5" cy="284.5" r="4.1"/><circle cx="681.5" cy="284.5" r="4.1"/><circle cx="681.5" cy="284.5" r="4.1"/><circle cx="682.5" cy="284.5" r="4.1"/><circle cx="682.5" cy="284.5" r="4.1"/><circle cx="683.5" cy="284.5" r="4.1"/><circle cx="683.5" cy="284.5" r="4.1"/><circle cx="684.5" cy="284.5" r="4.1"/><circle cx="684.5" cy="284.5" r="4.1"/><circle cx="685.5" cy="284.5" r="4.1"/><circle cx="685.5" cy="284.5" r="4.1"/><circle cx="686.5" cy="284.5" r="4.1"/><circle cx="686.5" cy="284.5" r="4.1"/><circle cx="687.5" cy="284.5" r="4.1"/><circle cx="687.5" cy="284.5" r="4.1"/><circle cx="688.5" cy="284.5" r="4.1"/><circle cx="688.5" cy="284.5" r="4.1"/><circle cx="689.5" cy="284.5" r="4.1"/><circle cx="689.5" cy="284.5" r="4.1"/><circle cx="690.5" cy="284.5" r="4.1"/><circle cx="690.5" cy="284.5" r="4.1"/><circle cx="691.5" cy="284.5" r="4.1"/><circle cx="691.5" cy="284.5" r="4.1"/><circle cx="692.5" cy="284.5" r="4.1"/><circle cx="692.5" cy="284.5" r="4.1"/><circle cx="693.5" cy="284.5" r="4.1"/><circle cx="693.5" cy="284.5" r="4.1"/><circle cx="694.5" cy="284.5" r="4.1"/><circle cx="694.5" cy="284.5" r="4.1"/><circle cx="695.5" cy="284.5" r="4.1"/><circle cx="695.5" cy="284.5" r="4.1"/><circle cx="696.5" cy="284.5" r="4.1"/><circle cx="696.5" cy="284.5" r="4.1"/><circle cx="697.5" cy="284.5" r="4.1"/><circle cx="697.5" cy="284.5" r="4.1"/><circle cx="698.5" cy="284.5" r="4.1"/><circle cx="698.5" cy="284.5" r="4.1"/><circle cx="699.5" cy="284.5" r="4.1"/><circle cx="699.5" cy="284.5" r="4.1"/><circle cx="700.5" cy="284.5" r="4.1"/><circle cx="700.5" cy="284.5" r="4.1"/><circle cx="701.5" cy="284.5" r="4.1"/><circle cx="701.5" cy="284.5" r="4.1"/><circle cx="702.5" cy="284.5" r="4.1"/><circle cx="702.5" cy="284.5" r="4.1"/><circle cx="703.5" cy="284.5" r="4.1"/><circle cx="703.5" cy="284.5" r="4.1"/><circle cx="704.5" cy="284.5" r="4.1"/><circle cx="704.5" cy="284.5" r="4.1"/><circle cx="705.5" cy="284.5" r="4.1"/><circle cx="705.5" cy="284.5" r="4.1"/><circle cx="706.5" cy="284.5" r="4.1"/><circle cx="706.5" cy="284.5" r="4.1"/><circle cx="707.5" cy="284.5" r="4.1"/><circle cx="707.5" cy="284.5" r="4.1"/><circle cx="708.5" cy="284.5" r="4.1"/><circle cx="708.5" cy="284.5" r="4.1"/><circle cx="709.5" cy="284.5" r="4.1"/><circle cx="709.5" cy="284.5" r="4.1"/><circle cx="710.5" cy="284.5" r="4.1"/><circle cx="710.5" cy="284.5" r="4.1"/><circle cx="711.5" cy="284.5" r="4.1"/><circle cx="711.5" cy="284.5" r="4.1"/><circle cx="712.5" cy="284.5" r="4.1"/><circle cx="712.5" cy="284.5" r="4.1"/><circle cx="713.5" cy="284.5" r="4.1"/><circle cx="713.5" cy="284.5" r="4.1"/><circle cx="714.5" cy="284.5" r="4.1"/><circle cx="714.5" cy="284.5" r="4.1"/><circle cx="715.5" cy="284.5" r="4.1"/><circle cx="715.5" cy="284.5" r="4.1"/><circle cx="716.5" cy="284.5" r="4.1"/><circle cx="716.5" cy="284.5" r="4.1"/><circle cx="717.5" cy="284.5" r="4.1"/><circle cx="717.5" cy="284.5" r="4.1"/><circle cx="718.5" cy="284.5" r="4.1"/><circle cx="718.5" cy="284.5" r="4.1"/><circle cx="719.5" cy="284.5" r="4.1"/><circle cx="719.5" cy="284.5" r="4.1"/><circle cx="720.5" cy="284.5" r="4.1"/><circle cx="720.5" cy="284.5" r="4.1"/><circle cx="721.5" cy="284.5" r="4.1"/><circle cx="721.5" cy="284.5" r="4.1"/><circle cx="722.5" cy="284.5" r="4.1"/><circle cx="722.5" cy="284.5" r="4.1"/><circle cx="723.5" cy="284.5" r="4.1"/><circle cx="723.5" cy="284.5" r="4.1"/><circle cx="724.5" cy="284.5" r="4.1"/><circle cx="724.5" cy="284.5" r="4.1"/><circle cx="725.5" cy="284.5" r="4.1"/><circle cx="725.5" cy="284.5" r="4.1"/><circle cx="726.5" cy="284.5" r="4.1"/><circle cx="726.5" cy="284.5" r="4.1"/><circle cx="727.5" cy="284.5" r="4.1"/><circle cx="727.5" cy="284.5" r="4.1"/><circle cx="728.5" cy="284.5" r="4.1"/><circle cx="728.5" cy="284.5" r="4.1"/><circle cx="729.5" cy="284.5" r="4.1"/><circle cx="729.5" cy="284.5" r="4.1"/><circle cx="730.5" cy="284.5" r="4.1"/><circle cx="730.5" cy="284.5" r="4.1"/><circle cx="731.5" cy="284.5" r="4.1"/><circle cx="731.5" cy="284.5" r="4.1"/><circle cx="732.5" cy="284.5" r="4.1"/><circle cx="732.5" cy="284.5" r="4.1"/><circle cx="733.5" cy="284.5" r="4.1"/><circle cx="733.5" cy="284.5" r="4.1"/><circle cx="734.5" cy="284.5" r="4.1"/><circle cx="734.5" cy="284.5" r="4.1"/><circle cx="735.5" cy="284.5" r="4.1"/><circle cx="735.5" cy="284.5" r="4.1"/><circle cx="736.5" cy="284.5" r="4.1"/><circle cx="736.5" cy="284.5" r="4.1"/><circle cx="737.5" cy="284.5" r="4.1"/><circle cx="737.5" cy="284.5" r="4.1"/><circle cx="738.5" cy="284.5" r="4.1"/><circle cx="738.5" cy="284.5" r="4.1"/><circle cx="739.5" cy="284.5" r="4.1"/><circle cx="739.5" cy="284.5" r="4.1"/><circle cx="740.5" cy="284.5" r="4.1"/><circle cx="740.5" cy="284.5" r="4.1"/><circle cx="741.5" cy="284.5" r="4.1"/><circle cx="741.5" cy="284.5" r="4.1"/><circle cx="742.5" cy="284.5" r="4.1"/><circle cx="742.5" cy="284.5" r="4.1"/><circle cx="743.5" cy="284.5" r="4.1"/><circle cx="743.5" cy="284.5" r="4.1"/><circle cx="744.5" cy="284.5" r="4.1"/><circle cx="744.5" cy="284.5" r="4.1"/><circle cx="745.5" cy="284.5" r="4.1"/><circle cx="745.5" cy="284.5" r="4.1"/><circle cx="746.5" cy="284.5" r="4.1"/><circle cx="746.5" cy="284.5" r="4.1"/><circle cx="747.5" cy="284.5" r="4.1"/><circle cx="747.5" cy="284.5" r="4.1"/><circle cx="748.5" cy="284.5" r="4.1"/><circle cx="748.5" cy="284.5" r="4.1"/><circle cx="749.5" cy="284.5" r="4.1"/><circle cx="749.5" cy="284.5" r="4.1"/><circle cx="750.5" cy="284.5" r="4.1"/><circle cx="750.5" cy="284.5" r="4.1"/><circle cx="751.5" cy="284.5" r="4.1"/><circle cx="751.5" cy="284.5" r="4.1"/><circle cx="752.5" cy="284.5" r="4.1"/><circle cx="752.5" cy="284.5" r="4.1"/><circle cx="753.5" cy="284.5" r="4.1"/><circle cx="753.5" cy="284.5" r="4.1"/><circle cx="754.5" cy="284.5" r="4.1"/><circle cx="754.5" cy="284.5" r="4.1"/><circle cx="755.5" cy="284.5" r="4.1"/><circle cx="755.5" cy="284.5" r="4.1"/><circle cx="756.5" cy="284.5" r="4.1"/><circle cx="756.5" cy="284.5" r="4.1"/><circle cx="757.5" cy="284.5" r="4.1"/><circle cx="757.5" cy="284.5" r="4.1"/><circle cx="758.5" cy="284.5" r="4.1"/><circle cx="758.5" cy="284.5" r="4.1"/><circle cx="759.5" cy="284.5" r="4.1"/><circle cx="759.5" cy="284.5" r="4.1"/><circle cx="760.5" cy="284.5" r="4.1"/><circle cx="760.5" cy="284.5" r="4.1"/><circle cx="768.5" cy="284.5" r="4.1"/><circle cx="768.5" cy="284.5" r="4.1"/><circle cx="768.5" cy="284.5" r="4.1"/><circle cx="770.5" cy="284.5" r="4.1"/><circle cx="770.5" cy="284.5" r="4.1"/><circle cx="774.5" cy="284.5" r="4.1"/><circle cx="774.5" cy="284.5" r="4.1"/><circle cx="774.5" cy="284.5" r="4.1"/><circle cx="775.5" cy="284.5" r="4.1"/><circle cx="775.5" cy="284.5" r="4.1"/><circle cx="786.5" cy="284.5" r="4.1"/><circle cx="786.5" cy="284.5" r="4.1"/><circle cx="788.0" cy="284.5" r="4.1"/><circle cx="788.0" cy="284.5" r="4.1"/><circle cx="789.5" cy="284.5" r="4.1"/><circle cx="789.5" cy="284.5" r="4.1"/><circle cx="791.0" cy="284.5" r="4.1"/><circle cx="791.0" cy="284.5" r="4.1"/><circle cx="792.5" cy="284.5" r="4.1"/><circle cx="792.5" cy="284.5" r="4.1"/><circle cx="794.0" cy="284.5" r="4.1"/><circle cx="794.0" cy="284.5" r="4.1"/><circle cx="795.5" cy="284.5" r="4.1"/><circle cx="795.5" cy="284.5" r="4.1"/><circle cx="797.0" cy="284.5" r="4.1"/><circle cx="797.0" cy="284.5" r="4.1"/><circle cx="798.5" cy="284.5" r="4.1"/><circle cx="798.5" cy="284.5" r="4.1"/><circle cx="809.5" cy="284.5" r="4.1"/><circle cx="809.5" cy="284.5" r="4.1"/><circle cx="810.5" cy="284.5" r="4.1"/><circle cx="810.5" cy="284.5" r="4.1"/><circle cx="811.5" cy="284.5" r="4.1"/><circle cx="811.5" cy="284.5" r="4.1"/><circle cx="812.5" cy="284.5" r="4.1"/><circle cx="812.5" cy="284.5" r="4.1"/><circle cx="813.5" cy="284.5" r="4.1"/><circle cx="813.5" cy="284.5" r="4.1"/><circle cx="814.5" cy="284.5" r="4.1"/><circle cx="814.5" cy="284.5" r="4.1"/><circle cx="815.5" cy="284.5" r="4.1"/><circle cx="815.5" cy="284.5" r="4.1"/><circle cx="816.5" cy="284.5" r="4.1"/><circle cx="816.5" cy="284.5" r="4.1"/><circle cx="817.5" cy="284.5" r="4.1"/><circle cx="817.5" cy="284.5" r="4.1"/><circle cx="818.5" cy="284.5" r="4.1"/><circle cx="818.5" cy="284.5" r="4.1"/><circle cx="819.5" cy="284.5" r="4.1"/><circle cx="819.5" cy="284.5" r="4.1"/><circle cx="820.5" cy="284.5" r="4.1"/><circle cx="820.5" cy="284.5" r="4.1"/><circle cx="821.5" cy="284.5" r="4.1"/><circle cx="821.5" cy="284.5" r="4.1"/><circle cx="822.5" cy="284.5" r="4.1"/><circle cx="822.5" cy="284.5" r="4.1"/><circle cx="823.5" cy="284.5" r="4.1"/><circle cx="823.5" cy="284.5" r="4.1"/><circle cx="824.5" cy="284.5" r="4.1"/><circle cx="824.5" cy="284.5" r="4.1"/><circle cx="825.5" cy="284.5" r="4.1"/><circle cx="825.5" cy="284.5" r="4.1"/><circle cx="826.5" cy="284.5" r="4.1"/><circle cx="826.5" cy="284.5" r="4.1"/><circle cx="827.5" cy="284.5" r="4.1"/><circle cx="827.5" cy="284.5" r="4.1"/><circle cx="828.5" cy="284.5" r="4.1"/><circle cx="828.5" cy="284.5" r="4.1"/><circle cx="829.5" cy="284.5" r="4.1"/><circle cx="829.5" cy="284.5" r="4.1"/><circle cx="830.5" cy="284.5" r="4.1"/><circle cx="830.5" cy="284.5" r="4.1"/><circle cx="831.5" cy="284.5" r="4.1"/><circle cx="831.5" cy="284.5" r="4.1"/><circle cx="832.5" cy="284.5" r="4.1"/><circle cx="832.5" cy="284.5" r="4.1"/><circle cx="833.5" cy="284.5" r="4.1"/><circle cx="833.5" cy="284.5" r="4.1"/><circle cx="834.5" cy="284.5" r="4.1"/><circle cx="834.5" cy="284.5" r="4.1"/><circle cx="835.5" cy="284.5" r="4.1"/><circle cx="835.5" cy="284.5" r="4.1"/><circle cx="836.5" cy="284.5" r="4.1"/><circle cx="836.5" cy="284.5" r="4.1"/><circle cx="837.5" cy="284.5" r="4.1"/><circle cx="837.5" cy="284.5" r="4.1"/><circle cx="838.5" cy="284.5" r="4.1"/><circle cx="838.5" cy="284.5" r="4.1"/><circle cx="839.5" cy="284.5" r="4.1"/><circle cx="839.5" cy="284.5" r="4.1"/><circle cx="840.5" cy="284.5" r="4.1"/><circle cx="840.5" cy="284.5" r="4.1"/><circle cx="841.5" cy="284.5" r="4.1"/><circle cx="841.5" cy="284.5" r="4.1"/><circle cx="842.5" cy="284.5" r="4.1"/><circle cx="842.5" cy="284.5" r="4.1"/><circle cx="843.5" cy="284.5" r="4.1"/><circle cx="843.5" cy="284.5" r="4.1"/><circle cx="844.5" cy="284.5" r="4.1"/><circle cx="844.5" cy="284.5" r="4.1"/><circle cx="845.5" cy="284.5" r="4.1"/><circle cx="845.5" cy="284.5" r="4.1"/><circle cx="846.5" cy="284.5" r="4.1"/><circle cx="846.5" cy="284.5" r="4.1"/><circle cx="847.5" cy="284.5" r="4.1"/><circle cx="847.5" cy="284.5" r="4.1"/><circle cx="848.5" cy="284.5" r="4.1"/><circle cx="848.5" cy="284.5" r="4.1"/><circle cx="849.5" cy="284.5" r="4.1"/><circle cx="849.5" cy="284.5" r="4.1"/><circle cx="850.5" cy="284.5" r="4.1"/><circle cx="850.5" cy="284.5" r="4.1"/><circle cx="851.5" cy="284.5" r="4.1"/><circle cx="851.5" cy="284.5" r="4.1"/><circle cx="852.5" cy="284.5" r="4.1"/><circle cx="852.5" cy="284.5" r="4.1"/><circle cx="853.5" cy="284.5" r="4.1"/><circle cx="853.5" cy="284.5" r="4.1"/><circle cx="854.5" cy="284.5" r="4.1"/><circle cx="854.5" cy="284.5" r="4.1"/><circle cx="855.5" cy="284.5" r="4.1"/><circle cx="855.5" cy="284.5" r="4.1"/><circle cx="856.5" cy="284.5" r="4.1"/><circle cx="856.5" cy="284.5" r="4.1"/><circle cx="857.5" cy="284.5" r="4.1"/><circle cx="857.5" cy="284.5" r="4.1"/><circle cx="868.5" cy="284.5" r="4.1"/><circle cx="868.5" cy="284.5" r="4.1"/><circle cx="869.5" cy="284.5" r="4.1"/><circle cx="869.5" cy="284.5" r="4.1"/><circle cx="870.5" cy="284.5" r="4.1"/><circle cx="870.5" cy="284.5" r="4.1"/><circle cx="871.5" cy="284.5" r="4.1"/><circle cx="871.5" cy="284.5" r="4.1"/><circle cx="872.5" cy="284.5" r="4.1"/><circle cx="872.5" cy="284.5" r="4.1"/><circle cx="873.5" cy="284.5" r="4.1"/><circle cx="873.5" cy="284.5" r="4.1"/><circle cx="874.5" cy="284.5" r="4.1"/><circle cx="874.5" cy="284.5" r="4.1"/><circle cx="875.5" cy="284.5" r="4.1"/><circle cx="875.5" cy="284.5" r="4.1"/><circle cx="876.5" cy="284.5" r="4.1"/><circle cx="876.5" cy="284.5" r="4.1"/><circle cx="877.5" cy="284.5" r="4.1"/><circle cx="877.5" cy="284.5" r="4.1"/><circle cx="878.5" cy="284.5" r="4.1"/><circle cx="878.5" cy="284.5" r="4.1"/><circle cx="879.5" cy="284.5" r="4.1"/><circle cx="879.5" cy="284.5" r="4.1"/><circle cx="880.5" cy="284.5" r="4.1"/><circle cx="880.5" cy="284.5" r="4.1"/><circle cx="881.5" cy="284.5" r="4.1"/><circle cx="881.5" cy="284.5" r="4.1"/><circle cx="882.5" cy="284.5" r="4.1"/><circle cx="882.5" cy="284.5" r="4.1"/><circle cx="883.5" cy="284.5" r="4.1"/><circle cx="883.5" cy="284.5" r="4.1"/><circle cx="884.5" cy="284.5" r="4.1"/><circle cx="884.5" cy="284.5" r="4.1"/><circle cx="885.5" cy="284.5" r="4.1"/><circle cx="885.5" cy="284.5" r="4.1"/><circle cx="886.5" cy="284.5" r="4.1"/><circle cx="886.5" cy="284.5" r="4.1"/><circle cx="887.5" cy="284.5" r="4.1"/><circle cx="887.5" cy="284.5" r="4.1"/><circle cx="888.5" cy="284.5" r="4.1"/><circle cx="888.5" cy="284.5" r="4.1"/><circle cx="889.5" cy="284.5" r="4.1"/><circle cx="889.5" cy="284.5" r="4.1"/><circle cx="890.5" cy="284.5" r="4.1"/><circle cx="890.5" cy="284.5" r="4.1"/><circle cx="891.5" cy="284.5" r="4.1"/><circle cx="891.5" cy="284.5" r="4.1"/><circle cx="892.5" cy="284.5" r="4.1"/><circle cx="892.5" cy="284.5" r="4.1"/><circle cx="893.5" cy="284.5" r="4.1"/><circle cx="893.5" cy="284.5" r="4.1"/><circle cx="894.5" cy="284.5" r="4.1"/><circle cx="894.5" cy="284.5" r="4.1"/><circle cx="895.5" cy="284.5" r="4.1"/><circle cx="895.5" cy="284.5" r="4.1"/><circle cx="896.5" cy="284.5" r="4.1"/><circle cx="896.5" cy="284.5" r="4.1"/><circle cx="897.5" cy="284.5" r="4.1"/><circle cx="897.5" cy="284.5" r="4.1"/><circle cx="898.5" cy="284.5" r="4.1"/><circle cx="898.5" cy="284.5" r="4.1"/><circle cx="899.5" cy="284.5" r="4.1"/><circle cx="899.5" cy="284.5" r="4.1"/><circle cx="900.5" cy="284.5" r="4.1"/><circle cx="900.5" cy="284.5" r="4.1"/><circle cx="901.5" cy="284.5" r="4.1"/><circle cx="901.5" cy="284.5" r="4.1"/><circle cx="902.5" cy="284.5" r="4.1"/><circle cx="902.5" cy="284.5" r="4.1"/><circle cx="903.5" cy="284.5" r="4.1"/><circle cx="903.5" cy="284.5" r="4.1"/><circle cx="904.5" cy="284.5" r="4.1"/><circle cx="904.5" cy="284.5" r="4.1"/><circle cx="905.5" cy="284.5" r="4.1"/><circle cx="905.5" cy="284.5" r="4.1"/><circle cx="906.5" cy="284.5" r="4.1"/><circle cx="906.5" cy="284.5" r="4.1"/><circle cx="907.5" cy="284.5" r="4.1"/><circle cx="907.5" cy="284.5" r="4.1"/><circle cx="908.5" cy="284.5" r="4.1"/><circle cx="908.5" cy="284.5" r="4.1"/><circle cx="909.5" cy="284.5" r="4.1"/><circle cx="909.5" cy="284.5" r="4.1"/><circle cx="910.5" cy="284.5" r="4.1"/><circle cx="910.5" cy="284.5" r="4.1"/><circle cx="911.5" cy="284.5" r="4.1"/><circle cx="911.5" cy="284.5" r="4.1"/><circle cx="912.5" cy="284.5" r="4.1"/><circle cx="912.5" cy="284.5" r="4.1"/><circle cx="913.5" cy="284.5" r="4.1"/><circle cx="913.5" cy="284.5" r="4.1"/><circle cx="914.5" cy="284.5" r="4.1"/><circle cx="914.5" cy="284.5" r="4.1"/><circle cx="915.5" cy="284.5" r="4.1"/><circle cx="915.5" cy="284.5" r="4.1"/><circle cx="916.5" cy="284.5" r="4.1"/><circle cx="916.5" cy="284.5" r="4.1"/><circle cx="917.5" cy="284.5" r="4.1"/><circle cx="917.5" cy="284.5" r="4.1"/><circle cx="918.5" cy="284.5" r="4.1"/><circle cx="918.5" cy="284.5" r="4.1"/><circle cx="919.5" cy="284.5" r="4.1"/><circle cx="919.5" cy="284.5" r="4.1"/><circle cx="920.5" cy="284.5" r="4.1"/><circle cx="920.5" cy="284.5" r="4.1"/><circle cx="921.5" cy="284.5" r="4.1"/><circle cx="921.5" cy="284.5" r="4.1"/><circle cx="922.5" cy="284.5" r="4.1"/><circle cx="922.5" cy="284.5" r="4.1"/><circle cx="923.5" cy="284.5" r="4.1"/><circle cx="923.5" cy="284.5" r="4.1"/><circle cx="924.5" cy="284.5" r="4.1"/><circle cx="924.5" cy="284.5" r="4.1"/><circle cx="925.5" cy="284.5" r="4.1"/><circle cx="925.5" cy="284.5" r="4.1"/><circle cx="926.5" cy="284.5" r="4.1"/><circle cx="926.5" cy="284.5" r="4.1"/><circle cx="927.5" cy="284.5" r="4.1"/><circle cx="927.5" cy="284.5" r="4.1"/><circle cx="928.5" cy="284.5" r="4.1"/><circle cx="928.5" cy="284.5" r="4.1"/><circle cx="929.5" cy="284.5" r="4.1"/><circle cx="929.5" cy="284.5" r="4.1"/><circle cx="930.5" cy="284.5" r="4.1"/><circle cx="930.5" cy="284.5" r="4.1"/><circle cx="931.5" cy="284.5" r="4.1"/><circle cx="931.5" cy="284.5" r="4.1"/><circle cx="932.5" cy="284.5" r="4.1"/><circle cx="932.5" cy="284.5" r="4.1"/><circle cx="933.5" cy="284.5" r="4.1"/><circle cx="933.5" cy="284.5" r="4.1"/><circle cx="934.5" cy="284.5" r="4.1"/><circle cx="934.5" cy="284.5" r="4.1"/><circle cx="935.5" cy="284.5" r="4.1"/><circle cx="935.5" cy="284.5" r="4.1"/><circle cx="936.5" cy="284.5" r="4.1"/><circle cx="936.5" cy="284.5" r="4.1"/><circle cx="937.5" cy="284.5" r="4.1"/><circle cx="937.5" cy="284.5" r="4.1"/><circle cx="938.5" cy="284.5" r="4.1"/><circle cx="938.5" cy="284.5" r="4.1"/><circle cx="939.5" cy="284.5" r="4.1"/><circle cx="939.5" cy="284.5" r="4.1"/><circle cx="940.5" cy="284.5" r="4.1"/><circle cx="940.5" cy="284.5" r="4.1"/><circle cx="941.5" cy="284.5" r="4.1"/><circle cx="941.5" cy="284.5" r="4.1"/><circle cx="942.5" cy="284.5" r="4.1"/><circle cx="942.5" cy="284.5" r="4.1"/><circle cx="943.5" cy="284.5" r="4.1"/><circle cx="943.5" cy="284.5" r="4.1"/><circle cx="944.5" cy="284.5" r="4.1"/><circle cx="944.5" cy="284.5" r="4.1"/><circle cx="945.5" cy="284.5" r="4.1"/><circle cx="945.5" cy="284.5" r="4.1"/><circle cx="946.5" cy="284.5" r="4.1"/><circle cx="946.5" cy="284.5" r="4.1"/><circle cx="947.5" cy="284.5" r="4.1"/><circle cx="947.5" cy="284.5" r="4.1"/><circle cx="948.5" cy="284.5" r="4.1"/><circle cx="948.5" cy="284.5" r="4.1"/><circle cx="949.5" cy="284.5" r="4.1"/><circle cx="949.5" cy="284.5" r="4.1"/><circle cx="950.5" cy="284.5" r="4.1"/><circle cx="950.5" cy="284.5" r="4.1"/><circle cx="951.5" cy="284.5" r="4.1"/><circle cx="951.5" cy="284.5" r="4.1"/><circle cx="952.5" cy="284.5" r="4.1"/><circle cx="952.5" cy="284.5" r="4.1"/><circle cx="953.5" cy="284.5" r="4.1"/><circle cx="953.5" cy="284.5" r="4.1"/><circle cx="954.5" cy="284.5" r="4.1"/><circle cx="954.5" cy="284.5" r="4.1"/><circle cx="955.5" cy="284.5" r="4.1"/><circle cx="955.5" cy="284.5" r="4.1"/><circle cx="956.5" cy="284.5" r="4.1"/><circle cx="956.5" cy="284.5" r="4.1"/><circle cx="957.5" cy="284.5" r="4.1"/><circle cx="957.5" cy="284.5" r="4.1"/><circle cx="958.5" cy="284.5" r="4.1"/><circle cx="958.5" cy="284.5" r="4.1"/><circle cx="959.5" cy="284.5" r="4.1"/><circle cx="959.5" cy="284.5" r="4.1"/><circle cx="960.5" cy="284.5" r="4.1"/><circle cx="960.5" cy="284.5" r="4.1"/><circle cx="961.5" cy="284.5" r="4.1"/><circle cx="961.5" cy="284.5" r="4.1"/><circle cx="962.5" cy="284.5" r="4.1"/><circle cx="962.5" cy="284.5" r="4.1"/><circle cx="963.5" cy="284.5" r="4.1"/><circle cx="963.5" cy="284.5" r="4.1"/><circle cx="964.5" cy="284.5" r="4.1"/><circle cx="964.5" cy="284.5" r="4.1"/><circle cx="965.5" cy="284.5" r="4.1"/><circle cx="965.5" cy="284.5" r="4.1"/><circle cx="966.5" cy="284.5" r="4.1"/><circle cx="966.5" cy="284.5" r="4.1"/><circle cx="967.5" cy="284.5" r="4.1"/><circle cx="967.5" cy="284.5" r="4.1"/><circle cx="968.5" cy="284.5" r="4.1"/><circle cx="968.5" cy="284.5" r="4.1"/><circle cx="969.5" cy="284.5" r="4.1"/><circle cx="969.5" cy="284.5" r="4.1"/><circle cx="970.5" cy="284.5" r="4.1"/><circle cx="970.5" cy="284.5" r="4.1"/><circle cx="971.5" cy="284.5" r="4.1"/><circle cx="971.5" cy="284.5" r="4.1"/><circle cx="972.5" cy="284.5" r="4.1"/><circle cx="972.5" cy="284.5" r="4.1"/><circle cx="973.5" cy="284.5" r="4.1"/><circle cx="973.5" cy="284.5" r="4.1"/><circle cx="974.5" cy="284.5" r="4.1"/><circle cx="974.5" cy="284.5" r="4.1"/><circle cx="975.5" cy="284.5" r="4.1"/><circle cx="975.5" cy="284.5" r="4.1"/><circle cx="976.5" cy="284.5" r="4.1"/><circle cx="976.5" cy="284.5" r="4.1"/><circle cx="977.5" cy="284.5" r="4.1"/><circle cx="977.5" cy="284.5" r="4.1"/><circle cx="978.5" cy="284.5" r="4.1"/><circle cx="978.5" cy="284.5" r="4.1"/><circle cx="979.5" cy="284.5" r="4.1"/><circle cx="979.5" cy="284.5" r="4.1"/><circle cx="980.5" cy="284.5" r="4.1"/><circle cx="980.5" cy="284.5" r="4.1"/><circle cx="981.5" cy="284.5" r="4.1"/><circle cx="981.5" cy="284.5" r="4.1"/><circle cx="982.5" cy="284.5" r="4.1"/><circle cx="982.5" cy="284.5" r="4.1"/><circle cx="983.5" cy="284.5" r="4.1"/><circle cx="983.5" cy="284.5" r="4.1"/><circle cx="984.5" cy="284.5" r="4.1"/><circle cx="984.5" cy="284.5" r="4.1"/><circle cx="985.5" cy="284.5" r="4.1"/><circle cx="985.5" cy="284.5" r="4.1"/><circle cx="986.5" cy="284.5" r="4.1"/><circle cx="986.5" cy="284.5" r="4.1"/><circle cx="987.5" cy="284.5" r="4.1"/><circle cx="987.5" cy="284.5" r="4.1"/><circle cx="988.5" cy="284.5" r="4.1"/><circle cx="988.5" cy="284.5" r="4.1"/><circle cx="989.5" cy="284.5" r="4.1"/><circle cx="989.5" cy="284.5" r="4.1"/><circle cx="990.5" cy="284.5" r="4.1"/><circle cx="990.5" cy="284.5" r="4.1"/><circle cx="991.5" cy="284.5" r="4.1"/><circle cx="991.5" cy="284.5" r="4.1"/><circle cx="992.5" cy="284.5" r="4.1"/><circle cx="992.5" cy="284.5" r="4.1"/><circle cx="993.5" cy="284.5" r="4.1"/><circle cx="993.5" cy="284.5" r="4.1"/><circle cx="994.5" cy="284.5" r="4.1"/><circle cx="994.5" cy="284.5" r="4.1"/><circle cx="995.5" cy="284.5" r="4.1"/><circle cx="995.5" cy="284.5" r="4.1"/><circle cx="996.5" cy="284.5" r="4.1"/><circle cx="996.5" cy="284.5" r="4.1"/><circle cx="997.5" cy="284.5" r="4.1"/><circle cx="997.5" cy="284.5" r="4.1"/><circle cx="998.5" cy="284.5" r="4.1"/><circle cx="998.5" cy="284.5" r="4.1"/><circle cx="999.5" cy="284.5" r="4.1"/><circle cx="999.5" cy="284.5" r="4.1"/><circle cx="1000.5" cy="284.5" r="4.1"/><circle cx="1000.5" cy="284.5" r="4.1"/><circle cx="1001.5" cy="284.5" r="4.1"/><circle cx="1001.5" cy="284.5" r="4.1"/><circle cx="1002.5" cy="284.5" r="4.1"/><circle cx="1002.5" cy="284.5" r="4.1"/><circle cx="1003.5" cy="284.5" r="4.1"/><circle cx="1003.5" cy="284.5" r="4.1"/><circle cx="1004.5" cy="284.5" r="4.1"/><circle cx="1004.5" cy="284.5" r="4.1"/><circle cx="1005.5" cy="284.5" r="4.1"/><circle cx="1005.5" cy="284.5" r="4.1"/><circle cx="1006.5" cy="284.5" r="4.1"/><circle cx="1006.5" cy="284.5" r="4.1"/><circle cx="1007.5" cy="284.5" r="4.1"/><circle cx="1007.5" cy="284.5" r="4.1"/><circle cx="1008.5" cy="284.5" r="4.1"/><circle cx="1008.5" cy="284.5" r="4.1"/><circle cx="1009.5" cy="284.5" r="4.1"/><circle cx="1009.5" cy="284.5" r="4.1"/><circle cx="1010.5" cy="284.5" r="4.1"/><circle cx="1010.5" cy="284.5" r="4.1"/><circle cx="1011.5" cy="284.5" r="4.1"/><circle cx="1011.5" cy="284.5" r="4.1"/><circle cx="1012.5" cy="284.5" r="4.1"/><circle cx="1012.5" cy="284.5" r="4.1"/><circle cx="1013.5" cy="284.5" r="4.1"/><circle cx="1013.5" cy="284.5" r="4.1"/><circle cx="1014.5" cy="284.5" r="4.1"/><circle cx="1014.5" cy="284.5" r="4.1"/><circle cx="1015.5" cy="284.5" r="4.1"/><circle cx="1015.5" cy="284.5" r="4.1"/><circle cx="1016.5" cy="284.5" r="4.1"/><circle cx="1016.5" cy="284.5" r="4.1"/><circle cx="1017.5" cy="284.5" r="4.1"/><circle cx="1017.5" cy="284.5" r="4.1"/><circle cx="1018.5" cy="284.5" r="4.1"/><circle cx="1018.5" cy="284.5" r="4.1"/><circle cx="1019.5" cy="284.5" r="4.1"/><circle cx="1019.5" cy="284.5" r="4.1"/><circle cx="1020.5" cy="284.5" r="4.1"/><circle cx="1020.5" cy="284.5" r="4.1"/><circle cx="1021.5" cy="284.5" r="4.1"/><circle cx="1021.5" cy="284.5" r="4.1"/><circle cx="1022.5" cy="284.5" r="4.1"/><circle cx="1022.5" cy="284.5" r="4.1"/><circle cx="1023.5" cy="284.5" r="4.1"/><circle cx="1023.5" cy="284.5" r="4.1"/><circle cx="1024.5" cy="284.5" r="4.1"/><circle cx="1024.5" cy="284.5" r="4.1"/><circle cx="1025.5" cy="284.5" r="4.1"/><circle cx="1025.5" cy="284.5" r="4.1"/><circle cx="1026.5" cy="284.5" r="4.1"/><circle cx="1026.5" cy="284.5" r="4.1"/><circle cx="1027.5" cy="284.5" r="4.1"/><circle cx="1027.5" cy="284.5" r="4.1"/><circle cx="1028.5" cy="284.5" r="4.1"/><circle cx="1028.5" cy="284.5" r="4.1"/><circle cx="1029.5" cy="284.5" r="4.1"/><circle cx="1029.5" cy="284.5" r="4.1"/><circle cx="1030.5" cy="284.5" r="4.1"/><circle cx="1030.5" cy="284.5" r="4.1"/><circle cx="1031.5" cy="284.5" r="4.1"/><circle cx="1031.5" cy="284.5" r="4.1"/><circle cx="1032.5" cy="284.5" r="4.1"/><circle cx="1032.5" cy="284.5" r="4.1"/><circle cx="1033.5" cy="284.5" r="4.1"/><circle cx="1033.5" cy="284.5" r="4.1"/><circle cx="1034.5" cy="284.5" r="4.1"/><circle cx="1034.5" cy="284.5" r="4.1"/><circle cx="1035.5" cy="284.5" r="4.1"/><circle cx="1035.5" cy="284.5" r="4.1"/><circle cx="1036.5" cy="284.5" r="4.1"/><circle cx="1036.5" cy="284.5" r="4.1"/><circle cx="1037.5" cy="284.5" r="4.1"/><circle cx="1037.5" cy="284.5" r="4.1"/><circle cx="1038.5" cy="284.5" r="4.1"/><circle cx="1038.5" cy="284.5" r="4.1"/><circle cx="1039.5" cy="284.5" r="4.1"/><circle cx="1039.5" cy="284.5" r="4.1"/><circle cx="1040.5" cy="284.5" r="4.1"/><circle cx="1040.5" cy="284.5" r="4.1"/><circle cx="1041.5" cy="284.5" r="4.1"/><circle cx="1041.5" cy="284.5" r="4.1"/><circle cx="1042.5" cy="284.5" r="4.1"/><circle cx="1042.5" cy="284.5" r="4.1"/><circle cx="1043.5" cy="284.5" r="4.1"/><circle cx="1043.5" cy="284.5" r="4.1"/><circle cx="1044.5" cy="284.5" r="4.1"/><circle cx="1044.5" cy="284.5" r="4.1"/><circle cx="1045.5" cy="284.5" r="4.1"/><circle cx="1045.5" cy="284.5" r="4.1"/><circle cx="1046.5" cy="284.5" r="4.1"/><circle cx="1046.5" cy="284.5" r="4.1"/><circle cx="1047.5" cy="284.5" r="4.1"/><circle cx="1047.5" cy="284.5" r="4.1"/><circle cx="1048.5" cy="284.5" r="4.1"/><circle cx="1048.5" cy="284.5" r="4.1"/><circle cx="1049.5" cy="284.5" r="4.1"/><circle cx="1049.5" cy="284.5" r="4.1"/><circle cx="1050.5" cy="284.5" r="4.1"/><circle cx="1050.5" cy="284.5" r="4.1"/><circle cx="1051.5" cy="284.5" r="4.1"/><circle cx="1051.5" cy="284.5" r="4.1"/><circle cx="1052.5" cy="284.5" r="4.1"/><circle cx="1052.5" cy="284.5" r="4.1"/><circle cx="1053.5" cy="284.5" r="4.1"/><circle cx="1053.5" cy="284.5" r="4.1"/><circle cx="1054.5" cy="284.5" r="4.1"/><circle cx="1054.5" cy="284.5" r="4.1"/><circle cx="1055.5" cy="284.5" r="4.1"/><circle cx="1055.5" cy="284.5" r="4.1"/><circle cx="1056.5" cy="284.5" r="4.1"/><circle cx="1056.5" cy="284.5" r="4.1"/><circle cx="1057.5" cy="284.5" r="4.1"/><circle cx="1057.5" cy="284.5" r="4.1"/><circle cx="1058.5" cy="284.5" r="4.1"/><circle cx="1058.5" cy="284.5" r="4.1"/><circle cx="1059.5" cy="284.5" r="4.1"/><circle cx="1059.5" cy="284.5" r="4.1"/><circle cx="1060.5" cy="284.5" r="4.1"/><circle cx="1060.5" cy="284.5" r="4.1"/><circle cx="1061.5" cy="284.5" r="4.1"/><circle cx="1061.5" cy="284.5" r="4.1"/><circle cx="1062.5" cy="284.5" r="4.1"/><circle cx="1062.5" cy="284.5" r="4.1"/><circle cx="1063.5" cy="284.5" r="4.1"/><circle cx="1063.5" cy="284.5" r="4.1"/><circle cx="1064.5" cy="284.5" r="4.1"/><circle cx="1064.5" cy="284.5" r="4.1"/><circle cx="1065.5" cy="284.5" r="4.1"/><circle cx="1065.5" cy="284.5" r="4.1"/><circle cx="1066.5" cy="284.5" r="4.1"/><circle cx="1066.5" cy="284.5" r="4.1"/><circle cx="1067.5" cy="284.5" r="4.1"/><circle cx="1067.5" cy="284.5" r="4.1"/><circle cx="1068.5" cy="284.5" r="4.1"/><circle cx="1068.5" cy="284.5" r="4.1"/><circle cx="1069.5" cy="284.5" r="4.1"/><circle cx="1069.5" cy="284.5" r="4.1"/><circle cx="1070.5" cy="284.5" r="4.1"/><circle cx="1070.5" cy="284.5" r="4.1"/><circle cx="1071.5" cy="284.5" r="4.1"/><circle cx="1071.5" cy="284.5" r="4.1"/><circle cx="1072.5" cy="284.5" r="4.1"/><circle cx="1072.5" cy="284.5" r="4.1"/><circle cx="1073.5" cy="284.5" r="4.1"/><circle cx="1073.5" cy="284.5" r="4.1"/><circle cx="1074.5" cy="284.5" r="4.1"/><circle cx="1074.5" cy="284.5" r="4.1"/><circle cx="1075.5" cy="284.5" r="4.1"/><circle cx="1075.5" cy="284.5" r="4.1"/><circle cx="1076.5" cy="284.5" r="4.1"/><circle cx="1076.5" cy="284.5" r="4.1"/><circle cx="1077.5" cy="284.5" r="4.1"/><circle cx="1077.5" cy="284.5" r="4.1"/><circle cx="1078.5" cy="284.5" r="4.1"/><circle cx="1078.5" cy="284.5" r="4.1"/><circle cx="1079.5" cy="284.5" r="4.1"/><circle cx="1079.5" cy="284.5" r="4.1"/><circle cx="1080.5" cy="284.5" r="4.1"/><circle cx="1080.5" cy="284.5" r="4.1"/><circle cx="1081.5" cy="284.5" r="4.1"/><circle cx="1081.5" cy="284.5" r="4.1"/><circle cx="1082.5" cy="284.5" r="4.1"/><circle cx="1082.5" cy="284.5" r="4.1"/><circle cx="1083.5" cy="284.5" r="4.1"/><circle cx="1083.5" cy="284.5" r="4.1"/><circle cx="1084.5" cy="284.5" r="4.1"/><circle cx="1084.5" cy="284.5" r="4.1"/><circle cx="1085.5" cy="284.5" r="4.1"/><circle cx="1085.5" cy="284.5" r="4.1"/><circle cx="1086.5" cy="284.5" r="4.1"/><circle cx="1086.5" cy="284.5" r="4.1"/><circle cx="1087.5" cy="284.5" r="4.1"/><circle cx="1087.5" cy="284.5" r="4.1"/><circle cx="1088.5" cy="284.5" r="4.1"/><circle cx="1088.5" cy="284.5" r="4.1"/><circle cx="1089.5" cy="284.5" r="4.1"/><circle cx="1089.5" cy="284.5" r="4.1"/><circle cx="1090.5" cy="284.5" r="4.1"/><circle cx="1090.5" cy="284.5" r="4.1"/><circle cx="1091.5" cy="284.5" r="4.1"/><circle cx="1091.5" cy="284.5" r="4.1"/><circle cx="1092.5" cy="284.5" r="4.1"/><circle cx="1092.5" cy="284.5" r="4.1"/><circle cx="1093.5" cy="284.5" r="4.1"/><circle cx="1093.5" cy="284.5" r="4.1"/><circle cx="1094.5" cy="284.5" r="4.1"/><circle cx="1094.5" cy="284.5" r="4.1"/><circle cx="1095.5" cy="284.5" r="4.1"/><circle cx="1095.5" cy="284.5" r="4.1"/><circle cx="1096.5" cy="284.5" r="4.1"/><circle cx="1096.5" cy="284.5" r="4.1"/><circle cx="1097.5" cy="284.5" r="4.1"/><circle cx="1097.5" cy="284.5" r="4.1"/><circle cx="1098.5" cy="284.5" r="4.1"/><circle cx="1098.5" cy="284.5" r="4.1"/><circle cx="1099.5" cy="284.5" r="4.1"/><circle cx="1099.5" cy="284.5" r="4.1"/><circle cx="1100.5" cy="284.5" r="4.1"/><circle cx="1100.5" cy="284.5" r="4.1"/><circle cx="1101.5" cy="284.5" r="4.1"/><circle cx="1101.5" cy="284.5" r="4.1"/><circle cx="1102.5" cy="284.5" r="4.1"/><circle cx="1102.5" cy="284.5" r="4.1"/><circle cx="1103.5" cy="284.5" r="4.1"/><circle cx="1103.5" cy="284.5" r="4.1"/><circle cx="1104.5" cy="284.5" r="4.1"/><circle cx="1104.5" cy="284.5" r="4.1"/><circle cx="1105.5" cy="284.5" r="4.1"/><circle cx="1105.5" cy="284.5" r="4.1"/><circle cx="1106.5" cy="284.5" r="4.1"/><circle cx="1106.5" cy="284.5" r="4.1"/><circle cx="1107.5" cy="284.5" r="4.1"/><circle cx="1107.5" cy="284.5" r="4.1"/><circle cx="1108.5" cy="284.5" r="4.1"/><circle cx="1108.5" cy="284.5" r="4.1"/><circle cx="1109.5" cy="284.5" r="4.1"/><circle cx="1109.5" cy="284.5" r="4.1"/><circle cx="1110.5" cy="284.5" r="4.1"/><circle cx="1110.5" cy="284.5" r="4.1"/><circle cx="1111.5" cy="284.5" r="4.1"/><circle cx="1111.5" cy="284.5" r="4.1"/><circle cx="1112.5" cy="284.5" r="4.1"/><circle cx="1112.5" cy="284.5" r="4.1"/><circle cx="1113.5" cy="284.5" r="4.1"/><circle cx="1113.5" cy="284.5" r="4.1"/><circle cx="1114.5" cy="284.5" r="4.1"/><circle cx="1114.5" cy="284.5" r="4.1"/><circle cx="1115.5" cy="284.5" r="4.1"/><circle cx="1115.5" cy="284.5" r="4.1"/><circle cx="1116.5" cy="284.5" r="4.1"/><circle cx="1116.5" cy="284.5" r="4.1"/><circle cx="1117.5" cy="284.5" r="4.1"/><circle cx="1117.5" cy="284.5" r="4.1"/><circle cx="1118.5" cy="284.5" r="4.1"/><circle cx="1118.5" cy="284.5" r="4.1"/><circle cx="1119.5" cy="284.5" r="4.1"/><circle cx="1119.5" cy="284.5" r="4.1"/><circle cx="1120.5" cy="284.5" r="4.1"/><circle cx="1120.5" cy="284.5" r="4.1"/><circle cx="1121.5" cy="284.5" r="4.1"/><circle cx="1121.5" cy="284.5" r="4.1"/><circle cx="1122.5" cy="284.5" r="4.1"/><circle cx="1122.5" cy="284.5" r="4.1"/><circle cx="1123.5" cy="284.5" r="4.1"/><circle cx="1123.5" cy="284.5" r="4.1"/><circle cx="1124.5" cy="284.5" r="4.1"/><circle cx="1124.5" cy="284.5" r="4.1"/><circle cx="1125.5" cy="284.5" r="4.1"/><circle cx="1125.5" cy="284.5" r="4.1"/><circle cx="1126.5" cy="284.5" r="4.1"/><circle cx="1126.5" cy="284.5" r="4.1"/><circle cx="1127.5" cy="284.5" r="4.1"/><circle cx="1127.5" cy="284.5" r="4.1"/><circle cx="1128.5" cy="284.5" r="4.1"/><circle cx="1128.5" cy="284.5" r="4.1"/><circle cx="1129.5" cy="284.5" r="4.1"/><circle cx="1129.5" cy="284.5" r="4.1"/><circle cx="1130.5" cy="284.5" r="4.1"/><circle cx="1130.5" cy="284.5" r="4.1"/><circle cx="1131.5" cy="284.5" r="4.1"/><circle cx="1131.5" cy="284.5" r="4.1"/><circle cx="1132.5" cy="284.5" r="4.1"/><circle cx="1132.5" cy="284.5" r="4.1"/><circle cx="1133.5" cy="284.5" r="4.1"/><circle cx="1133.5" cy="284.5" r="4.1"/><circle cx="1134.5" cy="284.5" r="4.1"/><circle cx="1134.5" cy="284.5" r="4.1"/><circle cx="1135.5" cy="284.5" r="4.1"/><circle cx="1135.5" cy="284.5" r="4.1"/></g>
<line x1="90.53" y1="284.00" x2="1185.00" y2="284.00" stroke="#ff0000" stroke-opacity="0.3" stroke-width="2.083"/>
<g><line class="t" x1="202.5" y1="485.50" x2="202.5" y2="490.40"/><line class="t" x1="316.5" y1="485.50" x2="316.5" y2="490.40"/><line class="t" x1="428.5" y1="485.50" x2="428.5" y2="490.40"/><line class="t" x1="542.5" y1="485.50" x2="542.5" y2="490.40"/><line class="t" x1="655.5" y1="485.50" x2="655.5" y2="490.40"/><line class="t" x1="771.5" y1="485.50" x2="771.5" y2="490.40"/><line class="t" x1="884.5" y1="485.50" x2="884.5" y2="490.40"/><line class="t" x1="998.5" y1="485.50" x2="998.5" y2="490.40"/><line class="t" x1="1108.5" y1="485.50" x2="1108.5" y2="490.40"/><line class="t" x1="86.60" y1="454.5" x2="91.50" y2="454.5"/><line class="t" x1="86.60" y1="397.5" x2="91.50" y2="397.5"/><line class="t" x1="86.60" y1="341.5" x2="91.50" y2="341.5"/><line class="t" x1="86.60" y1="284.5" x2="91.50" y2="284.5"/><line class="t" x1="86.60" y1="228.5" x2="91.50" y2="228.5"/><line class="t" x1="86.60" y1="171.5" x2="91.50" y2="171.5"/><line class="t" x1="86.60" y1="115.5" x2="91.50" y2="115.5"/><line class="t" x1="86.60" y1="59.5" x2="91.50" y2="59.5"/></g>
<rect x="91.50" y="38.50" width="1094.00" height="447.00" fill="none" stroke="#fff" stroke-width="1.389"/>
<text class="tk" text-anchor="end" x="80.81" y="458.79">−0.75</text>
<text class="tk" text-anchor="end" x="80.81" y="402.37">−0.50</text>
<text class="tk" text-anchor="end" x="80.81" y="345.96">−0.25</text>
<text class="tk" text-anchor="end" x="80.81" y="289.54">0.00</text>
<text class="tk" text-anchor="end" x="80.81" y="233.12">0.25</text>
<text class="tk" text-anchor="end" x="80.81" y="176.70">0.50</text>
<text class="tk" text-anchor="end" x="80.81" y="120.28">0.75</text>
<text class="tk" text-anchor="end" x="80.81" y="63.86">1.00</text>
<text class="tk" text-anchor="middle" transform="translate(202.41,529.15) rotate(-45)" x="0" y="3.72">2023-11-01</text>
<text class="tk" text-anchor="middle" transform="translate(316.08,529.15) rotate(-45)" x="0" y="3.72">2024-01-01</text>
<text class="tk" text-anchor="middle" transform="translate(427.88,529.15) rotate(-45)" x="0" y="3.72">2024-03-01</text>
<text class="tk" text-anchor="middle" transform="translate(541.55,529.15) rotate(-45)" x="0" y="3.72">2024-05-01</text>
<text class="tk" text-anchor="middle" transform="translate(655.21,529.15) rotate(-45)" x="0" y="3.72">2024-07-01</text>
<text class="tk" text-anchor="middle" transform="translate(770.74,529.15) rotate(-45)" x="0" y="3.72">2024-09-01</text>
<text class="tk" text-anchor="middle" transform="translate(884.41,529.15) rotate(-45)" x="0" y="3.72">2024-11-01</text>
<text class="tk" text-anchor="middle" transform="translate(998.07,529.15) rotate(-45)" x="0" y="3.72">2025-01-01</text>
<text class="tk" text-anchor="middle" transform="translate(1108.01,529.15) rotate(-45)" x="0" y="3.72">2025-03-01</text>
<text class="lb" text-anchor="middle" x="638.36" y="580.07">Date</text>
<text class="lb" text-anchor="middle" transform="translate(27.07,263.25) rotate(-90)" x="0" y="0">Sentiment (Negative to Positive)</text>
<text class="tt" text-anchor="middle" x="637.06" y="30.28">Sentiment of Prompts Over Time</text>
</svg></body></html>
